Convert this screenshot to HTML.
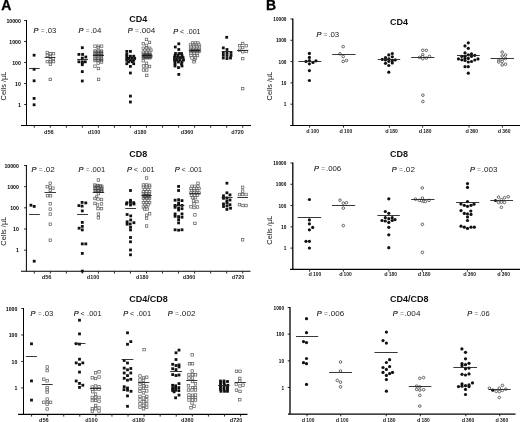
<!DOCTYPE html>
<html><head><meta charset="utf-8"><style>
html,body{margin:0;padding:0;background:#fff;width:520px;height:422px;overflow:hidden;position:relative}
svg{filter:grayscale(1)}
</style></head><body>
<svg width="520" height="422" viewBox="0 0 520 422" style="position:absolute;left:0;top:0">
<rect width="520" height="422" fill="#fff"/>
<g font-family='"Liberation Sans", sans-serif' fill="#111">
<text x="1.2" y="9.8" font-size="14" font-weight="bold" stroke="#000" stroke-width="0.3" fill="#000">A</text>
<text x="265.9" y="9.8" font-size="14" font-weight="bold" stroke="#000" stroke-width="0.3" fill="#000">B</text>
<line x1="26.5" y1="20.0" x2="26.5" y2="125.5" stroke="#000" stroke-width="1.0"/>
<line x1="21" y1="125.5" x2="251" y2="125.5" stroke="#000" stroke-width="1.1"/>
<line x1="24.2" y1="20.50" x2="26.5" y2="20.50" stroke="#111" stroke-width="0.9"/>
<text x="20.9" y="22.79" font-size="5.2" font-weight="bold" text-anchor="end" fill="#000">10000</text>
<line x1="24.2" y1="41.50" x2="26.5" y2="41.50" stroke="#111" stroke-width="0.9"/>
<text x="20.9" y="43.79" font-size="5.2" font-weight="bold" text-anchor="end" fill="#000">1000</text>
<line x1="24.2" y1="62.50" x2="26.5" y2="62.50" stroke="#111" stroke-width="0.9"/>
<text x="20.9" y="64.79" font-size="5.2" font-weight="bold" text-anchor="end" fill="#000">100</text>
<line x1="24.2" y1="83.50" x2="26.5" y2="83.50" stroke="#111" stroke-width="0.9"/>
<text x="20.9" y="85.79" font-size="5.2" font-weight="bold" text-anchor="end" fill="#000">10</text>
<line x1="24.2" y1="104.50" x2="26.5" y2="104.50" stroke="#111" stroke-width="0.9"/>
<text x="20.9" y="106.79" font-size="5.2" font-weight="bold" text-anchor="end" fill="#000">1</text>
<line x1="34.30" y1="125.5" x2="34.30" y2="127.7" stroke="#111" stroke-width="0.9"/>
<line x1="50.33" y1="125.5" x2="50.33" y2="127.7" stroke="#111" stroke-width="0.9"/>
<line x1="66.36" y1="125.5" x2="66.36" y2="127.7" stroke="#111" stroke-width="0.9"/>
<line x1="82.39" y1="125.5" x2="82.39" y2="127.7" stroke="#111" stroke-width="0.9"/>
<line x1="98.42" y1="125.5" x2="98.42" y2="127.7" stroke="#111" stroke-width="0.9"/>
<line x1="114.45" y1="125.5" x2="114.45" y2="127.7" stroke="#111" stroke-width="0.9"/>
<line x1="130.48" y1="125.5" x2="130.48" y2="127.7" stroke="#111" stroke-width="0.9"/>
<line x1="146.51" y1="125.5" x2="146.51" y2="127.7" stroke="#111" stroke-width="0.9"/>
<line x1="162.54" y1="125.5" x2="162.54" y2="127.7" stroke="#111" stroke-width="0.9"/>
<line x1="178.57" y1="125.5" x2="178.57" y2="127.7" stroke="#111" stroke-width="0.9"/>
<line x1="194.60" y1="125.5" x2="194.60" y2="127.7" stroke="#111" stroke-width="0.9"/>
<line x1="210.63" y1="125.5" x2="210.63" y2="127.7" stroke="#111" stroke-width="0.9"/>
<line x1="226.66" y1="125.5" x2="226.66" y2="127.7" stroke="#111" stroke-width="0.9"/>
<line x1="242.69" y1="125.5" x2="242.69" y2="127.7" stroke="#111" stroke-width="0.9"/>
<text x="44.00" y="133.5" font-size="5.5" font-weight="bold" fill="#222">d</text>
<text x="47.40" y="133.5" font-size="5.5" font-weight="bold" fill="#222" textLength="6.30" lengthAdjust="spacingAndGlyphs">56</text>
<text x="87.80" y="133.5" font-size="5.5" font-weight="bold" fill="#222">d</text>
<text x="91.20" y="133.5" font-size="5.5" font-weight="bold" fill="#222" textLength="9.10" lengthAdjust="spacingAndGlyphs">100</text>
<text x="134.10" y="133.5" font-size="5.5" font-weight="bold" fill="#222">d</text>
<text x="137.50" y="133.5" font-size="5.5" font-weight="bold" fill="#222" textLength="9.10" lengthAdjust="spacingAndGlyphs">180</text>
<text x="180.80" y="133.5" font-size="5.5" font-weight="bold" fill="#222">d</text>
<text x="184.20" y="133.5" font-size="5.5" font-weight="bold" fill="#222" textLength="9.10" lengthAdjust="spacingAndGlyphs">360</text>
<text x="231.30" y="133.5" font-size="5.5" font-weight="bold" fill="#222">d</text>
<text x="234.70" y="133.5" font-size="5.5" font-weight="bold" fill="#222" textLength="9.10" lengthAdjust="spacingAndGlyphs">720</text>
<line x1="26.4" y1="165.0" x2="26.4" y2="271.3" stroke="#000" stroke-width="1.0"/>
<line x1="21" y1="271.3" x2="250.5" y2="271.3" stroke="#000" stroke-width="1.1"/>
<line x1="24.099999999999998" y1="165.50" x2="26.4" y2="165.50" stroke="#111" stroke-width="0.9"/>
<text x="18.9" y="167.79" font-size="5.2" font-weight="bold" text-anchor="end" fill="#000">10000</text>
<line x1="24.099999999999998" y1="186.66" x2="26.4" y2="186.66" stroke="#111" stroke-width="0.9"/>
<text x="18.9" y="188.95" font-size="5.2" font-weight="bold" text-anchor="end" fill="#000">1000</text>
<line x1="24.099999999999998" y1="207.82" x2="26.4" y2="207.82" stroke="#111" stroke-width="0.9"/>
<text x="18.9" y="210.11" font-size="5.2" font-weight="bold" text-anchor="end" fill="#000">100</text>
<line x1="24.099999999999998" y1="228.98" x2="26.4" y2="228.98" stroke="#111" stroke-width="0.9"/>
<text x="18.9" y="231.27" font-size="5.2" font-weight="bold" text-anchor="end" fill="#000">10</text>
<line x1="24.099999999999998" y1="250.14" x2="26.4" y2="250.14" stroke="#111" stroke-width="0.9"/>
<text x="18.9" y="252.43" font-size="5.2" font-weight="bold" text-anchor="end" fill="#000">1</text>
<line x1="34.30" y1="271.3" x2="34.30" y2="273.5" stroke="#111" stroke-width="0.9"/>
<line x1="50.33" y1="271.3" x2="50.33" y2="273.5" stroke="#111" stroke-width="0.9"/>
<line x1="66.36" y1="271.3" x2="66.36" y2="273.5" stroke="#111" stroke-width="0.9"/>
<line x1="82.39" y1="271.3" x2="82.39" y2="273.5" stroke="#111" stroke-width="0.9"/>
<line x1="98.42" y1="271.3" x2="98.42" y2="273.5" stroke="#111" stroke-width="0.9"/>
<line x1="114.45" y1="271.3" x2="114.45" y2="273.5" stroke="#111" stroke-width="0.9"/>
<line x1="130.48" y1="271.3" x2="130.48" y2="273.5" stroke="#111" stroke-width="0.9"/>
<line x1="146.51" y1="271.3" x2="146.51" y2="273.5" stroke="#111" stroke-width="0.9"/>
<line x1="162.54" y1="271.3" x2="162.54" y2="273.5" stroke="#111" stroke-width="0.9"/>
<line x1="178.57" y1="271.3" x2="178.57" y2="273.5" stroke="#111" stroke-width="0.9"/>
<line x1="194.60" y1="271.3" x2="194.60" y2="273.5" stroke="#111" stroke-width="0.9"/>
<line x1="210.63" y1="271.3" x2="210.63" y2="273.5" stroke="#111" stroke-width="0.9"/>
<line x1="226.66" y1="271.3" x2="226.66" y2="273.5" stroke="#111" stroke-width="0.9"/>
<line x1="242.69" y1="271.3" x2="242.69" y2="273.5" stroke="#111" stroke-width="0.9"/>
<text x="41.80" y="278.5" font-size="5.5" font-weight="bold" fill="#222">d</text>
<text x="45.20" y="278.5" font-size="5.5" font-weight="bold" fill="#222" textLength="6.30" lengthAdjust="spacingAndGlyphs">56</text>
<text x="86.80" y="278.5" font-size="5.5" font-weight="bold" fill="#222">d</text>
<text x="90.20" y="278.5" font-size="5.5" font-weight="bold" fill="#222" textLength="9.10" lengthAdjust="spacingAndGlyphs">100</text>
<text x="136.10" y="278.5" font-size="5.5" font-weight="bold" fill="#222">d</text>
<text x="139.50" y="278.5" font-size="5.5" font-weight="bold" fill="#222" textLength="9.10" lengthAdjust="spacingAndGlyphs">180</text>
<text x="182.80" y="278.5" font-size="5.5" font-weight="bold" fill="#222">d</text>
<text x="186.20" y="278.5" font-size="5.5" font-weight="bold" fill="#222" textLength="9.10" lengthAdjust="spacingAndGlyphs">360</text>
<text x="231.80" y="278.5" font-size="5.5" font-weight="bold" fill="#222">d</text>
<text x="235.20" y="278.5" font-size="5.5" font-weight="bold" fill="#222" textLength="9.10" lengthAdjust="spacingAndGlyphs">720</text>
<line x1="23.5" y1="308.0" x2="23.5" y2="414.4" stroke="#000" stroke-width="1.0"/>
<line x1="18" y1="414.4" x2="247.5" y2="414.4" stroke="#000" stroke-width="1.1"/>
<line x1="21.2" y1="308.50" x2="23.5" y2="308.50" stroke="#111" stroke-width="0.9"/>
<text x="17.4" y="310.79" font-size="5.2" font-weight="bold" text-anchor="end" fill="#000">1000</text>
<line x1="21.2" y1="334.97" x2="23.5" y2="334.97" stroke="#111" stroke-width="0.9"/>
<text x="17.4" y="337.26" font-size="5.2" font-weight="bold" text-anchor="end" fill="#000">100</text>
<line x1="21.2" y1="361.44" x2="23.5" y2="361.44" stroke="#111" stroke-width="0.9"/>
<text x="17.4" y="363.73" font-size="5.2" font-weight="bold" text-anchor="end" fill="#000">10</text>
<line x1="21.2" y1="387.91" x2="23.5" y2="387.91" stroke="#111" stroke-width="0.9"/>
<text x="17.4" y="390.20" font-size="5.2" font-weight="bold" text-anchor="end" fill="#000">1</text>
<line x1="31.60" y1="414.4" x2="31.60" y2="416.59999999999997" stroke="#111" stroke-width="0.9"/>
<line x1="47.67" y1="414.4" x2="47.67" y2="416.59999999999997" stroke="#111" stroke-width="0.9"/>
<line x1="63.74" y1="414.4" x2="63.74" y2="416.59999999999997" stroke="#111" stroke-width="0.9"/>
<line x1="79.81" y1="414.4" x2="79.81" y2="416.59999999999997" stroke="#111" stroke-width="0.9"/>
<line x1="95.88" y1="414.4" x2="95.88" y2="416.59999999999997" stroke="#111" stroke-width="0.9"/>
<line x1="111.95" y1="414.4" x2="111.95" y2="416.59999999999997" stroke="#111" stroke-width="0.9"/>
<line x1="128.02" y1="414.4" x2="128.02" y2="416.59999999999997" stroke="#111" stroke-width="0.9"/>
<line x1="144.09" y1="414.4" x2="144.09" y2="416.59999999999997" stroke="#111" stroke-width="0.9"/>
<line x1="160.16" y1="414.4" x2="160.16" y2="416.59999999999997" stroke="#111" stroke-width="0.9"/>
<line x1="176.23" y1="414.4" x2="176.23" y2="416.59999999999997" stroke="#111" stroke-width="0.9"/>
<line x1="192.30" y1="414.4" x2="192.30" y2="416.59999999999997" stroke="#111" stroke-width="0.9"/>
<line x1="208.37" y1="414.4" x2="208.37" y2="416.59999999999997" stroke="#111" stroke-width="0.9"/>
<line x1="224.44" y1="414.4" x2="224.44" y2="416.59999999999997" stroke="#111" stroke-width="0.9"/>
<line x1="240.51" y1="414.4" x2="240.51" y2="416.59999999999997" stroke="#111" stroke-width="0.9"/>
<text x="39.00" y="421.9" font-size="5.5" font-weight="bold" fill="#222">d</text>
<text x="42.40" y="421.9" font-size="5.5" font-weight="bold" fill="#222" textLength="6.30" lengthAdjust="spacingAndGlyphs">56</text>
<text x="85.20" y="421.9" font-size="5.5" font-weight="bold" fill="#222">d</text>
<text x="88.60" y="421.9" font-size="5.5" font-weight="bold" fill="#222" textLength="9.10" lengthAdjust="spacingAndGlyphs">100</text>
<text x="132.30" y="421.9" font-size="5.5" font-weight="bold" fill="#222">d</text>
<text x="135.70" y="421.9" font-size="5.5" font-weight="bold" fill="#222" textLength="9.10" lengthAdjust="spacingAndGlyphs">180</text>
<text x="181.10" y="421.9" font-size="5.5" font-weight="bold" fill="#222">d</text>
<text x="184.50" y="421.9" font-size="5.5" font-weight="bold" fill="#222" textLength="9.10" lengthAdjust="spacingAndGlyphs">360</text>
<text x="229.80" y="421.9" font-size="5.5" font-weight="bold" fill="#222">d</text>
<text x="233.20" y="421.9" font-size="5.5" font-weight="bold" fill="#222" textLength="9.10" lengthAdjust="spacingAndGlyphs">720</text>
<line x1="292.8" y1="18.5" x2="292.8" y2="125.45" stroke="#000" stroke-width="1.3"/>
<line x1="290.1" y1="125.45" x2="520" y2="125.45" stroke="#000" stroke-width="1.1"/>
<line x1="290.5" y1="19.00" x2="292.8" y2="19.00" stroke="#111" stroke-width="0.9"/>
<text x="286.4" y="21.07" font-size="4.7" font-weight="bold" text-anchor="end" fill="#000">10000</text>
<line x1="290.5" y1="40.29" x2="292.8" y2="40.29" stroke="#111" stroke-width="0.9"/>
<text x="286.4" y="42.36" font-size="4.7" font-weight="bold" text-anchor="end" fill="#000">1000</text>
<line x1="290.5" y1="61.58" x2="292.8" y2="61.58" stroke="#111" stroke-width="0.9"/>
<text x="286.4" y="63.65" font-size="4.7" font-weight="bold" text-anchor="end" fill="#000">100</text>
<line x1="290.5" y1="82.87" x2="292.8" y2="82.87" stroke="#111" stroke-width="0.9"/>
<text x="286.4" y="84.94" font-size="4.7" font-weight="bold" text-anchor="end" fill="#000">10</text>
<line x1="290.5" y1="104.16" x2="292.8" y2="104.16" stroke="#111" stroke-width="0.9"/>
<text x="286.4" y="106.23" font-size="4.7" font-weight="bold" text-anchor="end" fill="#000">1</text>
<line x1="309.60" y1="125.45" x2="309.60" y2="127.65" stroke="#111" stroke-width="0.9"/>
<line x1="343.50" y1="125.45" x2="343.50" y2="127.65" stroke="#111" stroke-width="0.9"/>
<line x1="389.40" y1="125.45" x2="389.40" y2="127.65" stroke="#111" stroke-width="0.9"/>
<line x1="422.60" y1="125.45" x2="422.60" y2="127.65" stroke="#111" stroke-width="0.9"/>
<line x1="469.00" y1="125.45" x2="469.00" y2="127.65" stroke="#111" stroke-width="0.9"/>
<line x1="502.40" y1="125.45" x2="502.40" y2="127.65" stroke="#111" stroke-width="0.9"/>
<text x="306.30" y="132.9" font-size="5.5" font-weight="bold" fill="#222">d</text>
<text x="310.70" y="132.9" font-size="5.5" font-weight="bold" fill="#222" textLength="8.20" lengthAdjust="spacingAndGlyphs">100</text>
<text x="339.60" y="132.9" font-size="5.5" font-weight="bold" fill="#222">d</text>
<text x="344.00" y="132.9" font-size="5.5" font-weight="bold" fill="#222" textLength="8.20" lengthAdjust="spacingAndGlyphs">100</text>
<text x="385.20" y="132.9" font-size="5.5" font-weight="bold" fill="#222">d</text>
<text x="389.60" y="132.9" font-size="5.5" font-weight="bold" fill="#222" textLength="8.20" lengthAdjust="spacingAndGlyphs">180</text>
<text x="418.80" y="132.9" font-size="5.5" font-weight="bold" fill="#222">d</text>
<text x="423.20" y="132.9" font-size="5.5" font-weight="bold" fill="#222" textLength="8.20" lengthAdjust="spacingAndGlyphs">180</text>
<text x="465.50" y="132.9" font-size="5.5" font-weight="bold" fill="#222">d</text>
<text x="469.90" y="132.9" font-size="5.5" font-weight="bold" fill="#222" textLength="8.20" lengthAdjust="spacingAndGlyphs">360</text>
<text x="497.80" y="132.9" font-size="5.5" font-weight="bold" fill="#222">d</text>
<text x="502.20" y="132.9" font-size="5.5" font-weight="bold" fill="#222" textLength="8.20" lengthAdjust="spacingAndGlyphs">360</text>
<line x1="292.8" y1="162.5" x2="292.8" y2="269.4" stroke="#000" stroke-width="1.3"/>
<line x1="290" y1="269.4" x2="520" y2="269.4" stroke="#000" stroke-width="1.1"/>
<line x1="290.5" y1="163.00" x2="292.8" y2="163.00" stroke="#111" stroke-width="0.9"/>
<text x="286.3" y="165.07" font-size="4.7" font-weight="bold" text-anchor="end" fill="#000">10000</text>
<line x1="290.5" y1="184.28" x2="292.8" y2="184.28" stroke="#111" stroke-width="0.9"/>
<text x="286.3" y="186.35" font-size="4.7" font-weight="bold" text-anchor="end" fill="#000">1000</text>
<line x1="290.5" y1="205.56" x2="292.8" y2="205.56" stroke="#111" stroke-width="0.9"/>
<text x="286.3" y="207.63" font-size="4.7" font-weight="bold" text-anchor="end" fill="#000">100</text>
<line x1="290.5" y1="226.84" x2="292.8" y2="226.84" stroke="#111" stroke-width="0.9"/>
<text x="286.3" y="228.91" font-size="4.7" font-weight="bold" text-anchor="end" fill="#000">10</text>
<line x1="290.5" y1="248.12" x2="292.8" y2="248.12" stroke="#111" stroke-width="0.9"/>
<text x="286.3" y="250.19" font-size="4.7" font-weight="bold" text-anchor="end" fill="#000">1</text>
<line x1="309.60" y1="269.4" x2="309.60" y2="271.59999999999997" stroke="#111" stroke-width="0.9"/>
<line x1="343.40" y1="269.4" x2="343.40" y2="271.59999999999997" stroke="#111" stroke-width="0.9"/>
<line x1="388.90" y1="269.4" x2="388.90" y2="271.59999999999997" stroke="#111" stroke-width="0.9"/>
<line x1="422.40" y1="269.4" x2="422.40" y2="271.59999999999997" stroke="#111" stroke-width="0.9"/>
<line x1="467.40" y1="269.4" x2="467.40" y2="271.59999999999997" stroke="#111" stroke-width="0.9"/>
<line x1="501.60" y1="269.4" x2="501.60" y2="271.59999999999997" stroke="#111" stroke-width="0.9"/>
<text x="308.60" y="276.4" font-size="5.5" font-weight="bold" fill="#222">d</text>
<text x="313.00" y="276.4" font-size="5.5" font-weight="bold" fill="#222" textLength="8.20" lengthAdjust="spacingAndGlyphs">100</text>
<text x="339.20" y="276.4" font-size="5.5" font-weight="bold" fill="#222">d</text>
<text x="343.60" y="276.4" font-size="5.5" font-weight="bold" fill="#222" textLength="8.20" lengthAdjust="spacingAndGlyphs">100</text>
<text x="384.30" y="276.4" font-size="5.5" font-weight="bold" fill="#222">d</text>
<text x="388.70" y="276.4" font-size="5.5" font-weight="bold" fill="#222" textLength="8.20" lengthAdjust="spacingAndGlyphs">180</text>
<text x="417.80" y="276.4" font-size="5.5" font-weight="bold" fill="#222">d</text>
<text x="422.20" y="276.4" font-size="5.5" font-weight="bold" fill="#222" textLength="8.20" lengthAdjust="spacingAndGlyphs">180</text>
<text x="463.30" y="276.4" font-size="5.5" font-weight="bold" fill="#222">d</text>
<text x="467.70" y="276.4" font-size="5.5" font-weight="bold" fill="#222" textLength="8.20" lengthAdjust="spacingAndGlyphs">360</text>
<text x="497.30" y="276.4" font-size="5.5" font-weight="bold" fill="#222">d</text>
<text x="501.70" y="276.4" font-size="5.5" font-weight="bold" fill="#222" textLength="8.20" lengthAdjust="spacingAndGlyphs">360</text>
<line x1="290.0" y1="307.0" x2="290.0" y2="414.1" stroke="#000" stroke-width="1.3"/>
<line x1="288" y1="414.1" x2="515.5" y2="414.1" stroke="#000" stroke-width="1.1"/>
<line x1="287.7" y1="307.50" x2="290.0" y2="307.50" stroke="#111" stroke-width="0.9"/>
<text x="284.0" y="309.57" font-size="4.7" font-weight="bold" text-anchor="end" fill="#000">1000</text>
<line x1="287.7" y1="334.15" x2="290.0" y2="334.15" stroke="#111" stroke-width="0.9"/>
<text x="284.0" y="336.22" font-size="4.7" font-weight="bold" text-anchor="end" fill="#000">100</text>
<line x1="287.7" y1="360.80" x2="290.0" y2="360.80" stroke="#111" stroke-width="0.9"/>
<text x="284.0" y="362.87" font-size="4.7" font-weight="bold" text-anchor="end" fill="#000">10</text>
<line x1="287.7" y1="387.45" x2="290.0" y2="387.45" stroke="#111" stroke-width="0.9"/>
<text x="284.0" y="389.52" font-size="4.7" font-weight="bold" text-anchor="end" fill="#000">1</text>
<line x1="307.00" y1="414.1" x2="307.00" y2="416.3" stroke="#111" stroke-width="0.9"/>
<line x1="340.70" y1="414.1" x2="340.70" y2="416.3" stroke="#111" stroke-width="0.9"/>
<line x1="386.20" y1="414.1" x2="386.20" y2="416.3" stroke="#111" stroke-width="0.9"/>
<line x1="420.30" y1="414.1" x2="420.30" y2="416.3" stroke="#111" stroke-width="0.9"/>
<line x1="465.80" y1="414.1" x2="465.80" y2="416.3" stroke="#111" stroke-width="0.9"/>
<line x1="499.80" y1="414.1" x2="499.80" y2="416.3" stroke="#111" stroke-width="0.9"/>
<text x="301.80" y="421.8" font-size="5.5" font-weight="bold" fill="#222">d</text>
<text x="306.20" y="421.8" font-size="5.5" font-weight="bold" fill="#222" textLength="8.20" lengthAdjust="spacingAndGlyphs">100</text>
<text x="335.80" y="421.8" font-size="5.5" font-weight="bold" fill="#222">d</text>
<text x="340.20" y="421.8" font-size="5.5" font-weight="bold" fill="#222" textLength="8.20" lengthAdjust="spacingAndGlyphs">100</text>
<text x="382.80" y="421.8" font-size="5.5" font-weight="bold" fill="#222">d</text>
<text x="387.20" y="421.8" font-size="5.5" font-weight="bold" fill="#222" textLength="8.20" lengthAdjust="spacingAndGlyphs">180</text>
<text x="417.10" y="421.8" font-size="5.5" font-weight="bold" fill="#222">d</text>
<text x="421.50" y="421.8" font-size="5.5" font-weight="bold" fill="#222" textLength="8.20" lengthAdjust="spacingAndGlyphs">180</text>
<text x="461.70" y="421.8" font-size="5.5" font-weight="bold" fill="#222">d</text>
<text x="466.10" y="421.8" font-size="5.5" font-weight="bold" fill="#222" textLength="8.20" lengthAdjust="spacingAndGlyphs">360</text>
<text x="495.60" y="421.8" font-size="5.5" font-weight="bold" fill="#222">d</text>
<text x="500.00" y="421.8" font-size="5.5" font-weight="bold" fill="#222" textLength="8.20" lengthAdjust="spacingAndGlyphs">360</text>
<text x="129.2" y="22.0" font-size="9" font-weight="bold">CD4</text>
<text x="129.2" y="157.0" font-size="9" font-weight="bold">CD8</text>
<text x="129.2" y="302.0" font-size="9" font-weight="bold">CD4/CD8</text>
<text x="390" y="24.6" font-size="9" font-weight="bold">CD4</text>
<text x="390" y="157.2" font-size="9" font-weight="bold">CD8</text>
<text x="390" y="301.8" font-size="9" font-weight="bold">CD4/CD8</text>
<text x="33.60" y="33.3" font-size="7.4" font-style="italic" fill="#111" stroke="#111" stroke-width="0.2">P</text>
<text x="40.80" y="33.3" font-size="6.6" fill="#777">=</text>
<text x="45.50" y="33.3" font-size="7.3" fill="#1a1a1a" textLength="10.70" lengthAdjust="spacingAndGlyphs">.03</text>
<text x="78.50" y="33.3" font-size="7.4" font-style="italic" fill="#111" stroke="#111" stroke-width="0.2">P</text>
<text x="85.70" y="33.3" font-size="6.6" fill="#777">=</text>
<text x="90.40" y="33.3" font-size="7.3" fill="#1a1a1a" textLength="11.00" lengthAdjust="spacingAndGlyphs">.04</text>
<text x="127.70" y="33.3" font-size="7.4" font-style="italic" fill="#111" stroke="#111" stroke-width="0.2">P</text>
<text x="134.90" y="33.3" font-size="6.6" fill="#777">=</text>
<text x="139.60" y="33.3" font-size="7.3" fill="#1a1a1a" textLength="15.70" lengthAdjust="spacingAndGlyphs">.004</text>
<text x="173.30" y="33.5" font-size="7.4" font-style="italic" fill="#111" stroke="#111" stroke-width="0.2">P</text>
<text x="180.10" y="33.5" font-size="7.2" fill="#222">&lt;</text>
<text x="186.70" y="33.5" font-size="7.3" fill="#1a1a1a" textLength="13.90" lengthAdjust="spacingAndGlyphs">.001</text>
<text x="31.50" y="171.5" font-size="7.4" font-style="italic" fill="#111" stroke="#111" stroke-width="0.2">P</text>
<text x="38.70" y="171.5" font-size="6.6" fill="#777">=</text>
<text x="43.40" y="171.5" font-size="7.3" fill="#1a1a1a" textLength="11.30" lengthAdjust="spacingAndGlyphs">.02</text>
<text x="78.50" y="171.5" font-size="7.4" font-style="italic" fill="#111" stroke="#111" stroke-width="0.2">P</text>
<text x="85.70" y="171.5" font-size="6.6" fill="#777">=</text>
<text x="90.40" y="171.5" font-size="7.3" fill="#1a1a1a" textLength="14.80" lengthAdjust="spacingAndGlyphs">.001</text>
<text x="127.00" y="171.6" font-size="7.4" font-style="italic" fill="#111" stroke="#111" stroke-width="0.2">P</text>
<text x="133.80" y="171.6" font-size="7.2" fill="#222">&lt;</text>
<text x="140.40" y="171.6" font-size="7.3" fill="#1a1a1a" textLength="14.30" lengthAdjust="spacingAndGlyphs">.001</text>
<text x="174.70" y="171.6" font-size="7.4" font-style="italic" fill="#111" stroke="#111" stroke-width="0.2">P</text>
<text x="181.50" y="171.6" font-size="7.2" fill="#222">&lt;</text>
<text x="188.10" y="171.6" font-size="7.3" fill="#1a1a1a" textLength="14.00" lengthAdjust="spacingAndGlyphs">.001</text>
<text x="30.60" y="315.6" font-size="7.4" font-style="italic" fill="#111" stroke="#111" stroke-width="0.2">P</text>
<text x="37.80" y="315.6" font-size="6.6" fill="#777">=</text>
<text x="42.50" y="315.6" font-size="7.3" fill="#1a1a1a" textLength="10.80" lengthAdjust="spacingAndGlyphs">.03</text>
<text x="73.70" y="315.7" font-size="7.4" font-style="italic" fill="#111" stroke="#111" stroke-width="0.2">P</text>
<text x="80.50" y="315.7" font-size="7.2" fill="#222">&lt;</text>
<text x="87.10" y="315.7" font-size="7.3" fill="#1a1a1a" textLength="14.60" lengthAdjust="spacingAndGlyphs">.001</text>
<text x="123.20" y="315.7" font-size="7.4" font-style="italic" fill="#111" stroke="#111" stroke-width="0.2">P</text>
<text x="130.00" y="315.7" font-size="7.2" fill="#222">&lt;</text>
<text x="136.60" y="315.7" font-size="7.3" fill="#1a1a1a" textLength="14.50" lengthAdjust="spacingAndGlyphs">.001</text>
<text x="167.70" y="315.7" font-size="7.4" font-style="italic" fill="#111" stroke="#111" stroke-width="0.2">P</text>
<text x="174.90" y="315.7" font-size="6.6" fill="#777">=</text>
<text x="179.60" y="315.7" font-size="7.3" fill="#1a1a1a" textLength="15.90" lengthAdjust="spacingAndGlyphs">.002</text>
<text x="316.40" y="36.7" font-size="7.4" font-style="italic" fill="#111" stroke="#111" stroke-width="0.2">P</text>
<text x="323.60" y="36.7" font-size="6.6" fill="#777">=</text>
<text x="328.30" y="36.7" font-size="7.3" fill="#1a1a1a" textLength="10.90" lengthAdjust="spacingAndGlyphs">.03</text>
<text x="314.10" y="171.4" font-size="7.4" font-style="italic" fill="#111" stroke="#111" stroke-width="0.2">P</text>
<text x="321.30" y="171.4" font-size="6.6" fill="#777">=</text>
<text x="326.00" y="171.4" font-size="7.3" fill="#1a1a1a" textLength="15.20" lengthAdjust="spacingAndGlyphs">.006</text>
<text x="391.70" y="171.7" font-size="7.4" font-style="italic" fill="#111" stroke="#111" stroke-width="0.2">P</text>
<text x="398.90" y="171.7" font-size="6.6" fill="#777">=</text>
<text x="403.60" y="171.7" font-size="7.3" fill="#1a1a1a" textLength="11.40" lengthAdjust="spacingAndGlyphs">.02</text>
<text x="469.90" y="171.6" font-size="7.4" font-style="italic" fill="#111" stroke="#111" stroke-width="0.2">P</text>
<text x="477.10" y="171.6" font-size="6.6" fill="#777">=</text>
<text x="481.80" y="171.6" font-size="7.3" fill="#1a1a1a" textLength="15.60" lengthAdjust="spacingAndGlyphs">.003</text>
<text x="316.70" y="315.8" font-size="7.4" font-style="italic" fill="#111" stroke="#111" stroke-width="0.2">P</text>
<text x="323.90" y="315.8" font-size="6.6" fill="#777">=</text>
<text x="328.60" y="315.8" font-size="7.3" fill="#1a1a1a" textLength="15.50" lengthAdjust="spacingAndGlyphs">.006</text>
<text x="392.70" y="315.9" font-size="7.4" font-style="italic" fill="#111" stroke="#111" stroke-width="0.2">P</text>
<text x="399.90" y="315.9" font-size="6.6" fill="#777">=</text>
<text x="404.60" y="315.9" font-size="7.3" fill="#1a1a1a" textLength="15.80" lengthAdjust="spacingAndGlyphs">.004</text>
<text x="467.30" y="316.0" font-size="7.4" font-style="italic" fill="#111" stroke="#111" stroke-width="0.2">P</text>
<text x="474.50" y="316.0" font-size="6.6" fill="#777">=</text>
<text x="479.20" y="316.0" font-size="7.3" fill="#1a1a1a" textLength="10.40" lengthAdjust="spacingAndGlyphs">.06</text>
<text transform="translate(6.4,86) rotate(-90)" font-size="7.4" text-anchor="middle" fill="#111">Cells /µL</text>
<text transform="translate(6.4,231.2) rotate(-90)" font-size="7.4" text-anchor="middle" fill="#111">Cells /µL</text>
<text transform="translate(272.2,86) rotate(-90)" font-size="7.4" text-anchor="middle" fill="#111">Cells /µL</text>
<text transform="translate(272.2,230.2) rotate(-90)" font-size="7.4" text-anchor="middle" fill="#111">Cells /µL</text>
<rect x="32.70" y="53.80" width="2.8" height="2.8" fill="#111"/>
<rect x="32.70" y="67.90" width="2.8" height="2.8" fill="#111"/>
<rect x="32.70" y="79.40" width="2.8" height="2.8" fill="#111"/>
<rect x="32.70" y="97.00" width="2.8" height="2.8" fill="#111"/>
<rect x="32.70" y="103.40" width="2.8" height="2.8" fill="#111"/>
<rect x="46.05" y="51.25" width="2.5" height="2.5" fill="#fff" fill-opacity="0.5" stroke="#5c5c5c" stroke-width="0.7"/>
<rect x="49.15" y="52.35" width="2.5" height="2.5" fill="#fff" fill-opacity="0.5" stroke="#5c5c5c" stroke-width="0.7"/>
<rect x="52.25" y="52.35" width="2.5" height="2.5" fill="#fff" fill-opacity="0.5" stroke="#5c5c5c" stroke-width="0.7"/>
<rect x="46.05" y="54.25" width="2.5" height="2.5" fill="#fff" fill-opacity="0.5" stroke="#5c5c5c" stroke-width="0.7"/>
<rect x="49.15" y="55.35" width="2.5" height="2.5" fill="#fff" fill-opacity="0.5" stroke="#5c5c5c" stroke-width="0.7"/>
<rect x="49.15" y="58.35" width="2.5" height="2.5" fill="#fff" fill-opacity="0.5" stroke="#5c5c5c" stroke-width="0.7"/>
<rect x="51.95" y="57.25" width="2.5" height="2.5" fill="#fff" fill-opacity="0.5" stroke="#5c5c5c" stroke-width="0.7"/>
<rect x="46.05" y="60.35" width="2.5" height="2.5" fill="#fff" fill-opacity="0.5" stroke="#5c5c5c" stroke-width="0.7"/>
<rect x="49.15" y="60.35" width="2.5" height="2.5" fill="#fff" fill-opacity="0.5" stroke="#5c5c5c" stroke-width="0.7"/>
<rect x="52.25" y="60.35" width="2.5" height="2.5" fill="#fff" fill-opacity="0.5" stroke="#5c5c5c" stroke-width="0.7"/>
<rect x="49.15" y="63.05" width="2.5" height="2.5" fill="#fff" fill-opacity="0.5" stroke="#5c5c5c" stroke-width="0.7"/>
<rect x="49.05" y="78.15" width="2.5" height="2.5" fill="#fff" fill-opacity="0.5" stroke="#5c5c5c" stroke-width="0.7"/>
<rect x="80.90" y="46.30" width="2.8" height="2.8" fill="#111"/>
<rect x="77.50" y="53.00" width="2.8" height="2.8" fill="#111"/>
<rect x="81.20" y="53.00" width="2.8" height="2.8" fill="#111"/>
<rect x="84.40" y="55.60" width="2.8" height="2.8" fill="#111"/>
<rect x="80.90" y="56.70" width="2.8" height="2.8" fill="#111"/>
<rect x="77.50" y="60.40" width="2.8" height="2.8" fill="#111"/>
<rect x="80.90" y="60.40" width="2.8" height="2.8" fill="#111"/>
<rect x="83.90" y="60.40" width="2.8" height="2.8" fill="#111"/>
<rect x="80.90" y="61.50" width="2.8" height="2.8" fill="#111"/>
<rect x="80.90" y="63.30" width="2.8" height="2.8" fill="#111"/>
<rect x="80.90" y="70.20" width="2.8" height="2.8" fill="#111"/>
<rect x="80.90" y="79.60" width="2.8" height="2.8" fill="#111"/>
<rect x="93.75" y="44.95" width="2.5" height="2.5" fill="#fff" fill-opacity="0.5" stroke="#5c5c5c" stroke-width="0.7"/>
<rect x="96.95" y="44.95" width="2.5" height="2.5" fill="#fff" fill-opacity="0.5" stroke="#5c5c5c" stroke-width="0.7"/>
<rect x="100.35" y="44.95" width="2.5" height="2.5" fill="#fff" fill-opacity="0.5" stroke="#5c5c5c" stroke-width="0.7"/>
<rect x="96.95" y="46.35" width="2.5" height="2.5" fill="#fff" fill-opacity="0.5" stroke="#5c5c5c" stroke-width="0.7"/>
<rect x="93.75" y="49.75" width="2.5" height="2.5" fill="#fff" fill-opacity="0.5" stroke="#5c5c5c" stroke-width="0.7"/>
<rect x="96.95" y="49.75" width="2.5" height="2.5" fill="#fff" fill-opacity="0.5" stroke="#5c5c5c" stroke-width="0.7"/>
<rect x="100.25" y="49.75" width="2.5" height="2.5" fill="#fff" fill-opacity="0.5" stroke="#5c5c5c" stroke-width="0.7"/>
<rect x="93.75" y="52.25" width="2.5" height="2.5" fill="#fff" fill-opacity="0.5" stroke="#5c5c5c" stroke-width="0.7"/>
<rect x="97.25" y="52.25" width="2.5" height="2.5" fill="#fff" fill-opacity="0.5" stroke="#5c5c5c" stroke-width="0.7"/>
<rect x="100.25" y="52.25" width="2.5" height="2.5" fill="#fff" fill-opacity="0.5" stroke="#5c5c5c" stroke-width="0.7"/>
<rect x="93.75" y="54.35" width="2.5" height="2.5" fill="#fff" fill-opacity="0.5" stroke="#5c5c5c" stroke-width="0.7"/>
<rect x="96.95" y="54.35" width="2.5" height="2.5" fill="#fff" fill-opacity="0.5" stroke="#5c5c5c" stroke-width="0.7"/>
<rect x="100.25" y="54.35" width="2.5" height="2.5" fill="#fff" fill-opacity="0.5" stroke="#5c5c5c" stroke-width="0.7"/>
<rect x="93.75" y="57.25" width="2.5" height="2.5" fill="#fff" fill-opacity="0.5" stroke="#5c5c5c" stroke-width="0.7"/>
<rect x="96.95" y="57.25" width="2.5" height="2.5" fill="#fff" fill-opacity="0.5" stroke="#5c5c5c" stroke-width="0.7"/>
<rect x="100.25" y="57.25" width="2.5" height="2.5" fill="#fff" fill-opacity="0.5" stroke="#5c5c5c" stroke-width="0.7"/>
<rect x="93.75" y="59.25" width="2.5" height="2.5" fill="#fff" fill-opacity="0.5" stroke="#5c5c5c" stroke-width="0.7"/>
<rect x="96.95" y="59.25" width="2.5" height="2.5" fill="#fff" fill-opacity="0.5" stroke="#5c5c5c" stroke-width="0.7"/>
<rect x="100.25" y="59.25" width="2.5" height="2.5" fill="#fff" fill-opacity="0.5" stroke="#5c5c5c" stroke-width="0.7"/>
<rect x="100.25" y="60.75" width="2.5" height="2.5" fill="#fff" fill-opacity="0.5" stroke="#5c5c5c" stroke-width="0.7"/>
<rect x="96.95" y="61.95" width="2.5" height="2.5" fill="#fff" fill-opacity="0.5" stroke="#5c5c5c" stroke-width="0.7"/>
<rect x="93.75" y="64.95" width="2.5" height="2.5" fill="#fff" fill-opacity="0.5" stroke="#5c5c5c" stroke-width="0.7"/>
<rect x="97.25" y="67.25" width="2.5" height="2.5" fill="#fff" fill-opacity="0.5" stroke="#5c5c5c" stroke-width="0.7"/>
<rect x="97.35" y="78.15" width="2.5" height="2.5" fill="#fff" fill-opacity="0.5" stroke="#5c5c5c" stroke-width="0.7"/>
<rect x="125.40" y="50.00" width="2.8" height="2.8" fill="#111"/>
<rect x="129.00" y="50.00" width="2.8" height="2.8" fill="#111"/>
<rect x="125.40" y="52.90" width="2.8" height="2.8" fill="#111"/>
<rect x="125.40" y="54.80" width="2.8" height="2.8" fill="#111"/>
<rect x="129.00" y="54.80" width="2.8" height="2.8" fill="#111"/>
<rect x="132.30" y="54.80" width="2.8" height="2.8" fill="#111"/>
<rect x="125.40" y="56.90" width="2.8" height="2.8" fill="#111"/>
<rect x="127.50" y="56.90" width="2.8" height="2.8" fill="#111"/>
<rect x="130.50" y="56.90" width="2.8" height="2.8" fill="#111"/>
<rect x="133.30" y="56.90" width="2.8" height="2.8" fill="#111"/>
<rect x="125.40" y="58.90" width="2.8" height="2.8" fill="#111"/>
<rect x="129.00" y="58.90" width="2.8" height="2.8" fill="#111"/>
<rect x="132.30" y="58.90" width="2.8" height="2.8" fill="#111"/>
<rect x="127.20" y="60.40" width="2.8" height="2.8" fill="#111"/>
<rect x="130.80" y="60.40" width="2.8" height="2.8" fill="#111"/>
<rect x="125.40" y="62.30" width="2.8" height="2.8" fill="#111"/>
<rect x="132.30" y="62.30" width="2.8" height="2.8" fill="#111"/>
<rect x="129.00" y="65.00" width="2.8" height="2.8" fill="#111"/>
<rect x="129.00" y="71.60" width="2.8" height="2.8" fill="#111"/>
<rect x="129.00" y="94.70" width="2.8" height="2.8" fill="#111"/>
<rect x="129.00" y="100.60" width="2.8" height="2.8" fill="#111"/>
<rect x="145.25" y="38.15" width="2.5" height="2.5" fill="#fff" fill-opacity="0.5" stroke="#5c5c5c" stroke-width="0.7"/>
<rect x="148.25" y="41.15" width="2.5" height="2.5" fill="#fff" fill-opacity="0.5" stroke="#5c5c5c" stroke-width="0.7"/>
<rect x="142.05" y="42.45" width="2.5" height="2.5" fill="#fff" fill-opacity="0.5" stroke="#5c5c5c" stroke-width="0.7"/>
<rect x="145.25" y="44.15" width="2.5" height="2.5" fill="#fff" fill-opacity="0.5" stroke="#5c5c5c" stroke-width="0.7"/>
<rect x="142.05" y="47.05" width="2.5" height="2.5" fill="#fff" fill-opacity="0.5" stroke="#5c5c5c" stroke-width="0.7"/>
<rect x="145.25" y="47.05" width="2.5" height="2.5" fill="#fff" fill-opacity="0.5" stroke="#5c5c5c" stroke-width="0.7"/>
<rect x="148.45" y="47.05" width="2.5" height="2.5" fill="#fff" fill-opacity="0.5" stroke="#5c5c5c" stroke-width="0.7"/>
<rect x="143.65" y="48.95" width="2.5" height="2.5" fill="#fff" fill-opacity="0.5" stroke="#5c5c5c" stroke-width="0.7"/>
<rect x="146.85" y="48.95" width="2.5" height="2.5" fill="#fff" fill-opacity="0.5" stroke="#5c5c5c" stroke-width="0.7"/>
<rect x="149.65" y="48.95" width="2.5" height="2.5" fill="#fff" fill-opacity="0.5" stroke="#5c5c5c" stroke-width="0.7"/>
<rect x="142.05" y="50.95" width="2.5" height="2.5" fill="#fff" fill-opacity="0.5" stroke="#5c5c5c" stroke-width="0.7"/>
<rect x="145.25" y="50.95" width="2.5" height="2.5" fill="#fff" fill-opacity="0.5" stroke="#5c5c5c" stroke-width="0.7"/>
<rect x="148.45" y="50.95" width="2.5" height="2.5" fill="#fff" fill-opacity="0.5" stroke="#5c5c5c" stroke-width="0.7"/>
<rect x="142.05" y="52.95" width="2.5" height="2.5" fill="#fff" fill-opacity="0.5" stroke="#5c5c5c" stroke-width="0.7"/>
<rect x="145.25" y="52.95" width="2.5" height="2.5" fill="#fff" fill-opacity="0.5" stroke="#5c5c5c" stroke-width="0.7"/>
<rect x="148.45" y="52.95" width="2.5" height="2.5" fill="#fff" fill-opacity="0.5" stroke="#5c5c5c" stroke-width="0.7"/>
<rect x="143.65" y="54.95" width="2.5" height="2.5" fill="#fff" fill-opacity="0.5" stroke="#5c5c5c" stroke-width="0.7"/>
<rect x="146.85" y="54.95" width="2.5" height="2.5" fill="#fff" fill-opacity="0.5" stroke="#5c5c5c" stroke-width="0.7"/>
<rect x="149.65" y="54.95" width="2.5" height="2.5" fill="#fff" fill-opacity="0.5" stroke="#5c5c5c" stroke-width="0.7"/>
<rect x="142.05" y="56.55" width="2.5" height="2.5" fill="#fff" fill-opacity="0.5" stroke="#5c5c5c" stroke-width="0.7"/>
<rect x="145.25" y="56.55" width="2.5" height="2.5" fill="#fff" fill-opacity="0.5" stroke="#5c5c5c" stroke-width="0.7"/>
<rect x="148.45" y="56.55" width="2.5" height="2.5" fill="#fff" fill-opacity="0.5" stroke="#5c5c5c" stroke-width="0.7"/>
<rect x="142.05" y="59.45" width="2.5" height="2.5" fill="#fff" fill-opacity="0.5" stroke="#5c5c5c" stroke-width="0.7"/>
<rect x="145.25" y="62.05" width="2.5" height="2.5" fill="#fff" fill-opacity="0.5" stroke="#5c5c5c" stroke-width="0.7"/>
<rect x="142.25" y="64.65" width="2.5" height="2.5" fill="#fff" fill-opacity="0.5" stroke="#5c5c5c" stroke-width="0.7"/>
<rect x="145.45" y="64.65" width="2.5" height="2.5" fill="#fff" fill-opacity="0.5" stroke="#5c5c5c" stroke-width="0.7"/>
<rect x="148.25" y="65.25" width="2.5" height="2.5" fill="#fff" fill-opacity="0.5" stroke="#5c5c5c" stroke-width="0.7"/>
<rect x="142.25" y="68.75" width="2.5" height="2.5" fill="#fff" fill-opacity="0.5" stroke="#5c5c5c" stroke-width="0.7"/>
<rect x="145.45" y="68.75" width="2.5" height="2.5" fill="#fff" fill-opacity="0.5" stroke="#5c5c5c" stroke-width="0.7"/>
<rect x="145.45" y="74.15" width="2.5" height="2.5" fill="#fff" fill-opacity="0.5" stroke="#5c5c5c" stroke-width="0.7"/>
<rect x="143.05" y="53.95" width="2.5" height="2.5" fill="#fff" fill-opacity="0.5" stroke="#5c5c5c" stroke-width="0.7"/>
<rect x="146.05" y="53.95" width="2.5" height="2.5" fill="#fff" fill-opacity="0.5" stroke="#5c5c5c" stroke-width="0.7"/>
<rect x="149.05" y="53.95" width="2.5" height="2.5" fill="#fff" fill-opacity="0.5" stroke="#5c5c5c" stroke-width="0.7"/>
<rect x="143.05" y="55.95" width="2.5" height="2.5" fill="#fff" fill-opacity="0.5" stroke="#5c5c5c" stroke-width="0.7"/>
<rect x="146.05" y="55.95" width="2.5" height="2.5" fill="#fff" fill-opacity="0.5" stroke="#5c5c5c" stroke-width="0.7"/>
<rect x="149.05" y="55.95" width="2.5" height="2.5" fill="#fff" fill-opacity="0.5" stroke="#5c5c5c" stroke-width="0.7"/>
<rect x="144.55" y="54.95" width="2.5" height="2.5" fill="#fff" fill-opacity="0.5" stroke="#5c5c5c" stroke-width="0.7"/>
<rect x="147.55" y="54.95" width="2.5" height="2.5" fill="#fff" fill-opacity="0.5" stroke="#5c5c5c" stroke-width="0.7"/>
<rect x="177.40" y="42.40" width="2.8" height="2.8" fill="#111"/>
<rect x="173.90" y="45.60" width="2.8" height="2.8" fill="#111"/>
<rect x="177.40" y="48.10" width="2.8" height="2.8" fill="#111"/>
<rect x="174.10" y="52.10" width="2.8" height="2.8" fill="#111"/>
<rect x="177.60" y="52.10" width="2.8" height="2.8" fill="#111"/>
<rect x="180.10" y="52.10" width="2.8" height="2.8" fill="#111"/>
<rect x="173.60" y="54.10" width="2.8" height="2.8" fill="#111"/>
<rect x="176.60" y="54.10" width="2.8" height="2.8" fill="#111"/>
<rect x="180.60" y="54.10" width="2.8" height="2.8" fill="#111"/>
<rect x="173.10" y="56.10" width="2.8" height="2.8" fill="#111"/>
<rect x="176.10" y="56.10" width="2.8" height="2.8" fill="#111"/>
<rect x="179.10" y="56.10" width="2.8" height="2.8" fill="#111"/>
<rect x="181.60" y="56.10" width="2.8" height="2.8" fill="#111"/>
<rect x="173.10" y="58.60" width="2.8" height="2.8" fill="#111"/>
<rect x="175.60" y="58.60" width="2.8" height="2.8" fill="#111"/>
<rect x="178.60" y="58.60" width="2.8" height="2.8" fill="#111"/>
<rect x="182.10" y="58.60" width="2.8" height="2.8" fill="#111"/>
<rect x="173.60" y="60.60" width="2.8" height="2.8" fill="#111"/>
<rect x="177.10" y="60.60" width="2.8" height="2.8" fill="#111"/>
<rect x="180.60" y="60.60" width="2.8" height="2.8" fill="#111"/>
<rect x="173.60" y="62.60" width="2.8" height="2.8" fill="#111"/>
<rect x="180.10" y="62.60" width="2.8" height="2.8" fill="#111"/>
<rect x="173.60" y="64.60" width="2.8" height="2.8" fill="#111"/>
<rect x="180.60" y="64.60" width="2.8" height="2.8" fill="#111"/>
<rect x="177.10" y="66.20" width="2.8" height="2.8" fill="#111"/>
<rect x="177.40" y="73.00" width="2.8" height="2.8" fill="#111"/>
<rect x="191.25" y="41.75" width="2.5" height="2.5" fill="#fff" fill-opacity="0.5" stroke="#5c5c5c" stroke-width="0.7"/>
<rect x="194.25" y="41.75" width="2.5" height="2.5" fill="#fff" fill-opacity="0.5" stroke="#5c5c5c" stroke-width="0.7"/>
<rect x="196.75" y="41.75" width="2.5" height="2.5" fill="#fff" fill-opacity="0.5" stroke="#5c5c5c" stroke-width="0.7"/>
<rect x="189.25" y="43.75" width="2.5" height="2.5" fill="#fff" fill-opacity="0.5" stroke="#5c5c5c" stroke-width="0.7"/>
<rect x="192.25" y="43.75" width="2.5" height="2.5" fill="#fff" fill-opacity="0.5" stroke="#5c5c5c" stroke-width="0.7"/>
<rect x="195.25" y="43.75" width="2.5" height="2.5" fill="#fff" fill-opacity="0.5" stroke="#5c5c5c" stroke-width="0.7"/>
<rect x="197.75" y="43.75" width="2.5" height="2.5" fill="#fff" fill-opacity="0.5" stroke="#5c5c5c" stroke-width="0.7"/>
<rect x="189.75" y="45.75" width="2.5" height="2.5" fill="#fff" fill-opacity="0.5" stroke="#5c5c5c" stroke-width="0.7"/>
<rect x="192.75" y="45.75" width="2.5" height="2.5" fill="#fff" fill-opacity="0.5" stroke="#5c5c5c" stroke-width="0.7"/>
<rect x="195.75" y="45.75" width="2.5" height="2.5" fill="#fff" fill-opacity="0.5" stroke="#5c5c5c" stroke-width="0.7"/>
<rect x="198.25" y="45.75" width="2.5" height="2.5" fill="#fff" fill-opacity="0.5" stroke="#5c5c5c" stroke-width="0.7"/>
<rect x="189.25" y="47.95" width="2.5" height="2.5" fill="#fff" fill-opacity="0.5" stroke="#5c5c5c" stroke-width="0.7"/>
<rect x="192.25" y="47.95" width="2.5" height="2.5" fill="#fff" fill-opacity="0.5" stroke="#5c5c5c" stroke-width="0.7"/>
<rect x="195.25" y="47.95" width="2.5" height="2.5" fill="#fff" fill-opacity="0.5" stroke="#5c5c5c" stroke-width="0.7"/>
<rect x="197.75" y="47.95" width="2.5" height="2.5" fill="#fff" fill-opacity="0.5" stroke="#5c5c5c" stroke-width="0.7"/>
<rect x="189.25" y="49.75" width="2.5" height="2.5" fill="#fff" fill-opacity="0.5" stroke="#5c5c5c" stroke-width="0.7"/>
<rect x="191.55" y="49.75" width="2.5" height="2.5" fill="#fff" fill-opacity="0.5" stroke="#5c5c5c" stroke-width="0.7"/>
<rect x="193.95" y="49.75" width="2.5" height="2.5" fill="#fff" fill-opacity="0.5" stroke="#5c5c5c" stroke-width="0.7"/>
<rect x="196.35" y="49.75" width="2.5" height="2.5" fill="#fff" fill-opacity="0.5" stroke="#5c5c5c" stroke-width="0.7"/>
<rect x="198.25" y="49.75" width="2.5" height="2.5" fill="#fff" fill-opacity="0.5" stroke="#5c5c5c" stroke-width="0.7"/>
<rect x="189.75" y="51.75" width="2.5" height="2.5" fill="#fff" fill-opacity="0.5" stroke="#5c5c5c" stroke-width="0.7"/>
<rect x="192.75" y="51.75" width="2.5" height="2.5" fill="#fff" fill-opacity="0.5" stroke="#5c5c5c" stroke-width="0.7"/>
<rect x="195.75" y="51.75" width="2.5" height="2.5" fill="#fff" fill-opacity="0.5" stroke="#5c5c5c" stroke-width="0.7"/>
<rect x="189.75" y="54.25" width="2.5" height="2.5" fill="#fff" fill-opacity="0.5" stroke="#5c5c5c" stroke-width="0.7"/>
<rect x="193.25" y="54.25" width="2.5" height="2.5" fill="#fff" fill-opacity="0.5" stroke="#5c5c5c" stroke-width="0.7"/>
<rect x="196.25" y="54.25" width="2.5" height="2.5" fill="#fff" fill-opacity="0.5" stroke="#5c5c5c" stroke-width="0.7"/>
<rect x="190.75" y="56.75" width="2.5" height="2.5" fill="#fff" fill-opacity="0.5" stroke="#5c5c5c" stroke-width="0.7"/>
<rect x="194.25" y="56.75" width="2.5" height="2.5" fill="#fff" fill-opacity="0.5" stroke="#5c5c5c" stroke-width="0.7"/>
<rect x="193.25" y="58.75" width="2.5" height="2.5" fill="#fff" fill-opacity="0.5" stroke="#5c5c5c" stroke-width="0.7"/>
<rect x="192.75" y="60.55" width="2.5" height="2.5" fill="#fff" fill-opacity="0.5" stroke="#5c5c5c" stroke-width="0.7"/>
<rect x="225.30" y="35.90" width="2.8" height="2.8" fill="#111"/>
<rect x="221.90" y="46.50" width="2.8" height="2.8" fill="#111"/>
<rect x="225.60" y="48.10" width="2.8" height="2.8" fill="#111"/>
<rect x="221.90" y="51.10" width="2.8" height="2.8" fill="#111"/>
<rect x="225.60" y="51.40" width="2.8" height="2.8" fill="#111"/>
<rect x="229.60" y="51.10" width="2.8" height="2.8" fill="#111"/>
<rect x="221.90" y="53.80" width="2.8" height="2.8" fill="#111"/>
<rect x="225.60" y="54.10" width="2.8" height="2.8" fill="#111"/>
<rect x="229.60" y="54.10" width="2.8" height="2.8" fill="#111"/>
<rect x="221.90" y="56.60" width="2.8" height="2.8" fill="#111"/>
<rect x="225.60" y="57.10" width="2.8" height="2.8" fill="#111"/>
<rect x="229.10" y="56.60" width="2.8" height="2.8" fill="#111"/>
<rect x="241.45" y="42.15" width="2.5" height="2.5" fill="#fff" fill-opacity="0.5" stroke="#5c5c5c" stroke-width="0.7"/>
<rect x="238.35" y="44.45" width="2.5" height="2.5" fill="#fff" fill-opacity="0.5" stroke="#5c5c5c" stroke-width="0.7"/>
<rect x="244.95" y="44.45" width="2.5" height="2.5" fill="#fff" fill-opacity="0.5" stroke="#5c5c5c" stroke-width="0.7"/>
<rect x="241.45" y="46.35" width="2.5" height="2.5" fill="#fff" fill-opacity="0.5" stroke="#5c5c5c" stroke-width="0.7"/>
<rect x="238.35" y="48.95" width="2.5" height="2.5" fill="#fff" fill-opacity="0.5" stroke="#5c5c5c" stroke-width="0.7"/>
<rect x="241.45" y="50.45" width="2.5" height="2.5" fill="#fff" fill-opacity="0.5" stroke="#5c5c5c" stroke-width="0.7"/>
<rect x="244.95" y="50.25" width="2.5" height="2.5" fill="#fff" fill-opacity="0.5" stroke="#5c5c5c" stroke-width="0.7"/>
<rect x="241.45" y="57.35" width="2.5" height="2.5" fill="#fff" fill-opacity="0.5" stroke="#5c5c5c" stroke-width="0.7"/>
<rect x="241.45" y="87.35" width="2.5" height="2.5" fill="#fff" fill-opacity="0.5" stroke="#5c5c5c" stroke-width="0.7"/>
<line x1="29" y1="68.5" x2="39.7" y2="68.5" stroke="#222" stroke-width="0.9"/>
<line x1="44.7" y1="57.5" x2="55.4" y2="57.5" stroke="#222" stroke-width="0.9"/>
<line x1="77.1" y1="59.5" x2="88" y2="59.5" stroke="#222" stroke-width="0.9"/>
<line x1="92.8" y1="55.5" x2="104" y2="55.5" stroke="#222" stroke-width="0.9"/>
<line x1="125.5" y1="59.5" x2="135.8" y2="59.5" stroke="#222" stroke-width="0.9"/>
<line x1="141.8" y1="55.5" x2="151.6" y2="55.5" stroke="#222" stroke-width="0.9"/>
<line x1="173.3" y1="58.5" x2="184.3" y2="58.5" stroke="#222" stroke-width="0.9"/>
<line x1="189.3" y1="50.5" x2="200.3" y2="50.5" stroke="#222" stroke-width="0.9"/>
<line x1="221.8" y1="51.5" x2="232" y2="51.5" stroke="#222" stroke-width="0.9"/>
<line x1="237" y1="50.5" x2="248.3" y2="50.5" stroke="#222" stroke-width="0.9"/>
<rect x="93.8" y="50.3" width="9.40" height="6.00" rx="1.2" fill="#111" fill-opacity="0.4"/>
<rect x="93.8" y="57.6" width="9.40" height="4.00" rx="1.2" fill="#111" fill-opacity="0.3"/>
<rect x="142.2" y="53.6" width="9.40" height="5.00" rx="1.2" fill="#111" fill-opacity="0.55"/>
<rect x="189.6" y="49.3" width="10.60" height="3.30" rx="1.2" fill="#111" fill-opacity="0.45"/>
<rect x="29.50" y="203.80" width="2.8" height="2.8" fill="#111"/>
<rect x="32.80" y="205.00" width="2.8" height="2.8" fill="#111"/>
<rect x="32.80" y="259.80" width="2.8" height="2.8" fill="#111"/>
<rect x="49.05" y="182.05" width="2.5" height="2.5" fill="#fff" fill-opacity="0.5" stroke="#5c5c5c" stroke-width="0.7"/>
<rect x="46.05" y="185.45" width="2.5" height="2.5" fill="#fff" fill-opacity="0.5" stroke="#5c5c5c" stroke-width="0.7"/>
<rect x="49.05" y="185.95" width="2.5" height="2.5" fill="#fff" fill-opacity="0.5" stroke="#5c5c5c" stroke-width="0.7"/>
<rect x="51.65" y="186.95" width="2.5" height="2.5" fill="#fff" fill-opacity="0.5" stroke="#5c5c5c" stroke-width="0.7"/>
<rect x="49.05" y="189.15" width="2.5" height="2.5" fill="#fff" fill-opacity="0.5" stroke="#5c5c5c" stroke-width="0.7"/>
<rect x="46.25" y="194.45" width="2.5" height="2.5" fill="#fff" fill-opacity="0.5" stroke="#5c5c5c" stroke-width="0.7"/>
<rect x="49.25" y="194.45" width="2.5" height="2.5" fill="#fff" fill-opacity="0.5" stroke="#5c5c5c" stroke-width="0.7"/>
<rect x="49.05" y="202.55" width="2.5" height="2.5" fill="#fff" fill-opacity="0.5" stroke="#5c5c5c" stroke-width="0.7"/>
<rect x="49.05" y="207.85" width="2.5" height="2.5" fill="#fff" fill-opacity="0.5" stroke="#5c5c5c" stroke-width="0.7"/>
<rect x="49.05" y="212.85" width="2.5" height="2.5" fill="#fff" fill-opacity="0.5" stroke="#5c5c5c" stroke-width="0.7"/>
<rect x="49.05" y="222.95" width="2.5" height="2.5" fill="#fff" fill-opacity="0.5" stroke="#5c5c5c" stroke-width="0.7"/>
<rect x="49.05" y="238.95" width="2.5" height="2.5" fill="#fff" fill-opacity="0.5" stroke="#5c5c5c" stroke-width="0.7"/>
<rect x="80.70" y="201.00" width="2.8" height="2.8" fill="#111"/>
<rect x="84.40" y="201.50" width="2.8" height="2.8" fill="#111"/>
<rect x="77.50" y="204.20" width="2.8" height="2.8" fill="#111"/>
<rect x="80.70" y="204.70" width="2.8" height="2.8" fill="#111"/>
<rect x="80.90" y="209.50" width="2.8" height="2.8" fill="#111"/>
<rect x="80.90" y="221.00" width="2.8" height="2.8" fill="#111"/>
<rect x="80.90" y="225.00" width="2.8" height="2.8" fill="#111"/>
<rect x="77.70" y="226.80" width="2.8" height="2.8" fill="#111"/>
<rect x="80.90" y="228.50" width="2.8" height="2.8" fill="#111"/>
<rect x="80.90" y="242.50" width="2.8" height="2.8" fill="#111"/>
<rect x="84.40" y="242.50" width="2.8" height="2.8" fill="#111"/>
<rect x="80.90" y="252.00" width="2.8" height="2.8" fill="#111"/>
<rect x="80.90" y="269.70" width="2.8" height="2.8" fill="#111"/>
<rect x="97.15" y="178.75" width="2.5" height="2.5" fill="#fff" fill-opacity="0.5" stroke="#5c5c5c" stroke-width="0.7"/>
<rect x="93.55" y="183.85" width="2.5" height="2.5" fill="#fff" fill-opacity="0.5" stroke="#5c5c5c" stroke-width="0.7"/>
<rect x="96.25" y="184.25" width="2.5" height="2.5" fill="#fff" fill-opacity="0.5" stroke="#5c5c5c" stroke-width="0.7"/>
<rect x="99.25" y="184.75" width="2.5" height="2.5" fill="#fff" fill-opacity="0.5" stroke="#5c5c5c" stroke-width="0.7"/>
<rect x="96.75" y="186.75" width="2.5" height="2.5" fill="#fff" fill-opacity="0.5" stroke="#5c5c5c" stroke-width="0.7"/>
<rect x="100.25" y="187.75" width="2.5" height="2.5" fill="#fff" fill-opacity="0.5" stroke="#5c5c5c" stroke-width="0.7"/>
<rect x="93.75" y="187.25" width="2.5" height="2.5" fill="#fff" fill-opacity="0.5" stroke="#5c5c5c" stroke-width="0.7"/>
<rect x="93.95" y="189.45" width="2.5" height="2.5" fill="#fff" fill-opacity="0.5" stroke="#5c5c5c" stroke-width="0.7"/>
<rect x="97.15" y="189.45" width="2.5" height="2.5" fill="#fff" fill-opacity="0.5" stroke="#5c5c5c" stroke-width="0.7"/>
<rect x="100.25" y="189.95" width="2.5" height="2.5" fill="#fff" fill-opacity="0.5" stroke="#5c5c5c" stroke-width="0.7"/>
<rect x="97.15" y="192.35" width="2.5" height="2.5" fill="#fff" fill-opacity="0.5" stroke="#5c5c5c" stroke-width="0.7"/>
<rect x="95.25" y="195.75" width="2.5" height="2.5" fill="#fff" fill-opacity="0.5" stroke="#5c5c5c" stroke-width="0.7"/>
<rect x="93.75" y="197.25" width="2.5" height="2.5" fill="#fff" fill-opacity="0.5" stroke="#5c5c5c" stroke-width="0.7"/>
<rect x="96.75" y="197.75" width="2.5" height="2.5" fill="#fff" fill-opacity="0.5" stroke="#5c5c5c" stroke-width="0.7"/>
<rect x="100.25" y="198.25" width="2.5" height="2.5" fill="#fff" fill-opacity="0.5" stroke="#5c5c5c" stroke-width="0.7"/>
<rect x="93.75" y="202.15" width="2.5" height="2.5" fill="#fff" fill-opacity="0.5" stroke="#5c5c5c" stroke-width="0.7"/>
<rect x="100.25" y="202.65" width="2.5" height="2.5" fill="#fff" fill-opacity="0.5" stroke="#5c5c5c" stroke-width="0.7"/>
<rect x="96.25" y="203.75" width="2.5" height="2.5" fill="#fff" fill-opacity="0.5" stroke="#5c5c5c" stroke-width="0.7"/>
<rect x="96.75" y="207.35" width="2.5" height="2.5" fill="#fff" fill-opacity="0.5" stroke="#5c5c5c" stroke-width="0.7"/>
<rect x="100.25" y="207.35" width="2.5" height="2.5" fill="#fff" fill-opacity="0.5" stroke="#5c5c5c" stroke-width="0.7"/>
<rect x="97.15" y="212.85" width="2.5" height="2.5" fill="#fff" fill-opacity="0.5" stroke="#5c5c5c" stroke-width="0.7"/>
<rect x="97.15" y="216.55" width="2.5" height="2.5" fill="#fff" fill-opacity="0.5" stroke="#5c5c5c" stroke-width="0.7"/>
<rect x="129.10" y="189.10" width="2.8" height="2.8" fill="#111"/>
<rect x="129.10" y="198.90" width="2.8" height="2.8" fill="#111"/>
<rect x="125.60" y="201.30" width="2.8" height="2.8" fill="#111"/>
<rect x="129.10" y="201.00" width="2.8" height="2.8" fill="#111"/>
<rect x="132.30" y="201.30" width="2.8" height="2.8" fill="#111"/>
<rect x="125.10" y="202.60" width="2.8" height="2.8" fill="#111"/>
<rect x="129.10" y="203.60" width="2.8" height="2.8" fill="#111"/>
<rect x="132.60" y="202.60" width="2.8" height="2.8" fill="#111"/>
<rect x="125.70" y="213.10" width="2.8" height="2.8" fill="#111"/>
<rect x="129.30" y="214.50" width="2.8" height="2.8" fill="#111"/>
<rect x="129.30" y="218.60" width="2.8" height="2.8" fill="#111"/>
<rect x="125.70" y="220.40" width="2.8" height="2.8" fill="#111"/>
<rect x="132.50" y="221.30" width="2.8" height="2.8" fill="#111"/>
<rect x="125.70" y="222.80" width="2.8" height="2.8" fill="#111"/>
<rect x="128.80" y="222.60" width="2.8" height="2.8" fill="#111"/>
<rect x="129.10" y="225.80" width="2.8" height="2.8" fill="#111"/>
<rect x="129.10" y="228.50" width="2.8" height="2.8" fill="#111"/>
<rect x="129.10" y="236.10" width="2.8" height="2.8" fill="#111"/>
<rect x="129.10" y="240.40" width="2.8" height="2.8" fill="#111"/>
<rect x="129.10" y="248.60" width="2.8" height="2.8" fill="#111"/>
<rect x="129.10" y="253.40" width="2.8" height="2.8" fill="#111"/>
<rect x="145.35" y="176.75" width="2.5" height="2.5" fill="#fff" fill-opacity="0.5" stroke="#5c5c5c" stroke-width="0.7"/>
<rect x="142.15" y="183.75" width="2.5" height="2.5" fill="#fff" fill-opacity="0.5" stroke="#5c5c5c" stroke-width="0.7"/>
<rect x="145.35" y="183.75" width="2.5" height="2.5" fill="#fff" fill-opacity="0.5" stroke="#5c5c5c" stroke-width="0.7"/>
<rect x="148.35" y="184.05" width="2.5" height="2.5" fill="#fff" fill-opacity="0.5" stroke="#5c5c5c" stroke-width="0.7"/>
<rect x="142.15" y="185.95" width="2.5" height="2.5" fill="#fff" fill-opacity="0.5" stroke="#5c5c5c" stroke-width="0.7"/>
<rect x="145.35" y="185.95" width="2.5" height="2.5" fill="#fff" fill-opacity="0.5" stroke="#5c5c5c" stroke-width="0.7"/>
<rect x="148.35" y="185.95" width="2.5" height="2.5" fill="#fff" fill-opacity="0.5" stroke="#5c5c5c" stroke-width="0.7"/>
<rect x="143.75" y="188.15" width="2.5" height="2.5" fill="#fff" fill-opacity="0.5" stroke="#5c5c5c" stroke-width="0.7"/>
<rect x="146.95" y="188.15" width="2.5" height="2.5" fill="#fff" fill-opacity="0.5" stroke="#5c5c5c" stroke-width="0.7"/>
<rect x="142.15" y="190.35" width="2.5" height="2.5" fill="#fff" fill-opacity="0.5" stroke="#5c5c5c" stroke-width="0.7"/>
<rect x="145.35" y="190.35" width="2.5" height="2.5" fill="#fff" fill-opacity="0.5" stroke="#5c5c5c" stroke-width="0.7"/>
<rect x="148.35" y="190.35" width="2.5" height="2.5" fill="#fff" fill-opacity="0.5" stroke="#5c5c5c" stroke-width="0.7"/>
<rect x="142.15" y="192.55" width="2.5" height="2.5" fill="#fff" fill-opacity="0.5" stroke="#5c5c5c" stroke-width="0.7"/>
<rect x="144.85" y="192.55" width="2.5" height="2.5" fill="#fff" fill-opacity="0.5" stroke="#5c5c5c" stroke-width="0.7"/>
<rect x="147.85" y="192.55" width="2.5" height="2.5" fill="#fff" fill-opacity="0.5" stroke="#5c5c5c" stroke-width="0.7"/>
<rect x="143.75" y="194.75" width="2.5" height="2.5" fill="#fff" fill-opacity="0.5" stroke="#5c5c5c" stroke-width="0.7"/>
<rect x="146.95" y="194.75" width="2.5" height="2.5" fill="#fff" fill-opacity="0.5" stroke="#5c5c5c" stroke-width="0.7"/>
<rect x="142.15" y="196.95" width="2.5" height="2.5" fill="#fff" fill-opacity="0.5" stroke="#5c5c5c" stroke-width="0.7"/>
<rect x="145.35" y="196.95" width="2.5" height="2.5" fill="#fff" fill-opacity="0.5" stroke="#5c5c5c" stroke-width="0.7"/>
<rect x="148.35" y="196.95" width="2.5" height="2.5" fill="#fff" fill-opacity="0.5" stroke="#5c5c5c" stroke-width="0.7"/>
<rect x="143.75" y="199.15" width="2.5" height="2.5" fill="#fff" fill-opacity="0.5" stroke="#5c5c5c" stroke-width="0.7"/>
<rect x="146.95" y="199.15" width="2.5" height="2.5" fill="#fff" fill-opacity="0.5" stroke="#5c5c5c" stroke-width="0.7"/>
<rect x="142.15" y="201.35" width="2.5" height="2.5" fill="#fff" fill-opacity="0.5" stroke="#5c5c5c" stroke-width="0.7"/>
<rect x="145.35" y="201.35" width="2.5" height="2.5" fill="#fff" fill-opacity="0.5" stroke="#5c5c5c" stroke-width="0.7"/>
<rect x="148.35" y="201.35" width="2.5" height="2.5" fill="#fff" fill-opacity="0.5" stroke="#5c5c5c" stroke-width="0.7"/>
<rect x="143.75" y="203.55" width="2.5" height="2.5" fill="#fff" fill-opacity="0.5" stroke="#5c5c5c" stroke-width="0.7"/>
<rect x="146.95" y="203.55" width="2.5" height="2.5" fill="#fff" fill-opacity="0.5" stroke="#5c5c5c" stroke-width="0.7"/>
<rect x="142.15" y="205.75" width="2.5" height="2.5" fill="#fff" fill-opacity="0.5" stroke="#5c5c5c" stroke-width="0.7"/>
<rect x="145.35" y="205.75" width="2.5" height="2.5" fill="#fff" fill-opacity="0.5" stroke="#5c5c5c" stroke-width="0.7"/>
<rect x="143.35" y="207.75" width="2.5" height="2.5" fill="#fff" fill-opacity="0.5" stroke="#5c5c5c" stroke-width="0.7"/>
<rect x="145.85" y="207.75" width="2.5" height="2.5" fill="#fff" fill-opacity="0.5" stroke="#5c5c5c" stroke-width="0.7"/>
<rect x="148.35" y="212.55" width="2.5" height="2.5" fill="#fff" fill-opacity="0.5" stroke="#5c5c5c" stroke-width="0.7"/>
<rect x="145.35" y="214.05" width="2.5" height="2.5" fill="#fff" fill-opacity="0.5" stroke="#5c5c5c" stroke-width="0.7"/>
<rect x="145.35" y="217.05" width="2.5" height="2.5" fill="#fff" fill-opacity="0.5" stroke="#5c5c5c" stroke-width="0.7"/>
<rect x="145.35" y="224.75" width="2.5" height="2.5" fill="#fff" fill-opacity="0.5" stroke="#5c5c5c" stroke-width="0.7"/>
<rect x="177.20" y="185.00" width="2.8" height="2.8" fill="#111"/>
<rect x="177.20" y="189.10" width="2.8" height="2.8" fill="#111"/>
<rect x="173.70" y="198.80" width="2.8" height="2.8" fill="#111"/>
<rect x="177.20" y="198.30" width="2.8" height="2.8" fill="#111"/>
<rect x="180.60" y="199.20" width="2.8" height="2.8" fill="#111"/>
<rect x="177.20" y="201.60" width="2.8" height="2.8" fill="#111"/>
<rect x="173.70" y="204.00" width="2.8" height="2.8" fill="#111"/>
<rect x="177.20" y="203.50" width="2.8" height="2.8" fill="#111"/>
<rect x="180.60" y="204.00" width="2.8" height="2.8" fill="#111"/>
<rect x="173.70" y="205.90" width="2.8" height="2.8" fill="#111"/>
<rect x="177.20" y="206.80" width="2.8" height="2.8" fill="#111"/>
<rect x="180.60" y="207.30" width="2.8" height="2.8" fill="#111"/>
<rect x="177.20" y="208.60" width="2.8" height="2.8" fill="#111"/>
<rect x="173.70" y="212.50" width="2.8" height="2.8" fill="#111"/>
<rect x="180.60" y="212.50" width="2.8" height="2.8" fill="#111"/>
<rect x="173.70" y="214.90" width="2.8" height="2.8" fill="#111"/>
<rect x="177.20" y="215.20" width="2.8" height="2.8" fill="#111"/>
<rect x="180.60" y="215.80" width="2.8" height="2.8" fill="#111"/>
<rect x="177.20" y="218.20" width="2.8" height="2.8" fill="#111"/>
<rect x="177.20" y="221.50" width="2.8" height="2.8" fill="#111"/>
<rect x="173.70" y="228.40" width="2.8" height="2.8" fill="#111"/>
<rect x="177.20" y="228.80" width="2.8" height="2.8" fill="#111"/>
<rect x="180.60" y="228.40" width="2.8" height="2.8" fill="#111"/>
<rect x="196.75" y="182.05" width="2.5" height="2.5" fill="#fff" fill-opacity="0.5" stroke="#5c5c5c" stroke-width="0.7"/>
<rect x="190.75" y="185.05" width="2.5" height="2.5" fill="#fff" fill-opacity="0.5" stroke="#5c5c5c" stroke-width="0.7"/>
<rect x="193.65" y="185.05" width="2.5" height="2.5" fill="#fff" fill-opacity="0.5" stroke="#5c5c5c" stroke-width="0.7"/>
<rect x="196.65" y="185.05" width="2.5" height="2.5" fill="#fff" fill-opacity="0.5" stroke="#5c5c5c" stroke-width="0.7"/>
<rect x="189.75" y="187.25" width="2.5" height="2.5" fill="#fff" fill-opacity="0.5" stroke="#5c5c5c" stroke-width="0.7"/>
<rect x="192.75" y="187.25" width="2.5" height="2.5" fill="#fff" fill-opacity="0.5" stroke="#5c5c5c" stroke-width="0.7"/>
<rect x="195.75" y="187.25" width="2.5" height="2.5" fill="#fff" fill-opacity="0.5" stroke="#5c5c5c" stroke-width="0.7"/>
<rect x="197.75" y="187.25" width="2.5" height="2.5" fill="#fff" fill-opacity="0.5" stroke="#5c5c5c" stroke-width="0.7"/>
<rect x="190.25" y="189.45" width="2.5" height="2.5" fill="#fff" fill-opacity="0.5" stroke="#5c5c5c" stroke-width="0.7"/>
<rect x="193.25" y="189.45" width="2.5" height="2.5" fill="#fff" fill-opacity="0.5" stroke="#5c5c5c" stroke-width="0.7"/>
<rect x="196.25" y="189.45" width="2.5" height="2.5" fill="#fff" fill-opacity="0.5" stroke="#5c5c5c" stroke-width="0.7"/>
<rect x="189.75" y="191.75" width="2.5" height="2.5" fill="#fff" fill-opacity="0.5" stroke="#5c5c5c" stroke-width="0.7"/>
<rect x="192.75" y="191.75" width="2.5" height="2.5" fill="#fff" fill-opacity="0.5" stroke="#5c5c5c" stroke-width="0.7"/>
<rect x="195.75" y="191.75" width="2.5" height="2.5" fill="#fff" fill-opacity="0.5" stroke="#5c5c5c" stroke-width="0.7"/>
<rect x="197.75" y="191.75" width="2.5" height="2.5" fill="#fff" fill-opacity="0.5" stroke="#5c5c5c" stroke-width="0.7"/>
<rect x="190.25" y="194.05" width="2.5" height="2.5" fill="#fff" fill-opacity="0.5" stroke="#5c5c5c" stroke-width="0.7"/>
<rect x="193.25" y="194.05" width="2.5" height="2.5" fill="#fff" fill-opacity="0.5" stroke="#5c5c5c" stroke-width="0.7"/>
<rect x="196.25" y="194.05" width="2.5" height="2.5" fill="#fff" fill-opacity="0.5" stroke="#5c5c5c" stroke-width="0.7"/>
<rect x="191.25" y="196.35" width="2.5" height="2.5" fill="#fff" fill-opacity="0.5" stroke="#5c5c5c" stroke-width="0.7"/>
<rect x="194.25" y="196.35" width="2.5" height="2.5" fill="#fff" fill-opacity="0.5" stroke="#5c5c5c" stroke-width="0.7"/>
<rect x="192.25" y="199.65" width="2.5" height="2.5" fill="#fff" fill-opacity="0.5" stroke="#5c5c5c" stroke-width="0.7"/>
<rect x="195.75" y="200.25" width="2.5" height="2.5" fill="#fff" fill-opacity="0.5" stroke="#5c5c5c" stroke-width="0.7"/>
<rect x="192.75" y="202.55" width="2.5" height="2.5" fill="#fff" fill-opacity="0.5" stroke="#5c5c5c" stroke-width="0.7"/>
<rect x="189.75" y="205.55" width="2.5" height="2.5" fill="#fff" fill-opacity="0.5" stroke="#5c5c5c" stroke-width="0.7"/>
<rect x="192.75" y="206.25" width="2.5" height="2.5" fill="#fff" fill-opacity="0.5" stroke="#5c5c5c" stroke-width="0.7"/>
<rect x="196.25" y="205.75" width="2.5" height="2.5" fill="#fff" fill-opacity="0.5" stroke="#5c5c5c" stroke-width="0.7"/>
<rect x="193.65" y="213.65" width="2.5" height="2.5" fill="#fff" fill-opacity="0.5" stroke="#5c5c5c" stroke-width="0.7"/>
<rect x="193.65" y="222.15" width="2.5" height="2.5" fill="#fff" fill-opacity="0.5" stroke="#5c5c5c" stroke-width="0.7"/>
<rect x="225.50" y="181.80" width="2.8" height="2.8" fill="#111"/>
<rect x="225.50" y="191.40" width="2.8" height="2.8" fill="#111"/>
<rect x="222.10" y="194.40" width="2.8" height="2.8" fill="#111"/>
<rect x="228.60" y="193.50" width="2.8" height="2.8" fill="#111"/>
<rect x="222.10" y="196.90" width="2.8" height="2.8" fill="#111"/>
<rect x="225.50" y="196.50" width="2.8" height="2.8" fill="#111"/>
<rect x="228.60" y="198.60" width="2.8" height="2.8" fill="#111"/>
<rect x="225.50" y="199.50" width="2.8" height="2.8" fill="#111"/>
<rect x="222.10" y="202.50" width="2.8" height="2.8" fill="#111"/>
<rect x="225.60" y="201.60" width="2.8" height="2.8" fill="#111"/>
<rect x="228.60" y="203.30" width="2.8" height="2.8" fill="#111"/>
<rect x="222.10" y="205.10" width="2.8" height="2.8" fill="#111"/>
<rect x="225.60" y="204.60" width="2.8" height="2.8" fill="#111"/>
<rect x="229.10" y="206.80" width="2.8" height="2.8" fill="#111"/>
<rect x="225.50" y="208.00" width="2.8" height="2.8" fill="#111"/>
<rect x="241.35" y="186.05" width="2.5" height="2.5" fill="#fff" fill-opacity="0.5" stroke="#5c5c5c" stroke-width="0.7"/>
<rect x="241.35" y="189.85" width="2.5" height="2.5" fill="#fff" fill-opacity="0.5" stroke="#5c5c5c" stroke-width="0.7"/>
<rect x="238.25" y="193.25" width="2.5" height="2.5" fill="#fff" fill-opacity="0.5" stroke="#5c5c5c" stroke-width="0.7"/>
<rect x="241.35" y="193.25" width="2.5" height="2.5" fill="#fff" fill-opacity="0.5" stroke="#5c5c5c" stroke-width="0.7"/>
<rect x="244.75" y="193.25" width="2.5" height="2.5" fill="#fff" fill-opacity="0.5" stroke="#5c5c5c" stroke-width="0.7"/>
<rect x="238.25" y="203.45" width="2.5" height="2.5" fill="#fff" fill-opacity="0.5" stroke="#5c5c5c" stroke-width="0.7"/>
<rect x="241.75" y="204.25" width="2.5" height="2.5" fill="#fff" fill-opacity="0.5" stroke="#5c5c5c" stroke-width="0.7"/>
<rect x="244.75" y="204.25" width="2.5" height="2.5" fill="#fff" fill-opacity="0.5" stroke="#5c5c5c" stroke-width="0.7"/>
<rect x="241.35" y="238.55" width="2.5" height="2.5" fill="#fff" fill-opacity="0.5" stroke="#5c5c5c" stroke-width="0.7"/>
<line x1="29.1" y1="214.5" x2="39.8" y2="214.5" stroke="#222" stroke-width="0.9"/>
<line x1="44.5" y1="192.5" x2="56" y2="192.5" stroke="#222" stroke-width="0.9"/>
<line x1="77.1" y1="214.5" x2="88" y2="214.5" stroke="#222" stroke-width="0.9"/>
<line x1="92.7" y1="192.5" x2="104.2" y2="192.5" stroke="#222" stroke-width="0.9"/>
<line x1="125.3" y1="208.5" x2="136" y2="208.5" stroke="#222" stroke-width="0.9"/>
<line x1="141.3" y1="195.5" x2="151.8" y2="195.5" stroke="#222" stroke-width="0.9"/>
<line x1="173.6" y1="205.5" x2="184.4" y2="205.5" stroke="#222" stroke-width="0.9"/>
<line x1="189.4" y1="193.5" x2="200.4" y2="193.5" stroke="#222" stroke-width="0.9"/>
<line x1="221.5" y1="197.5" x2="232.6" y2="197.5" stroke="#222" stroke-width="0.9"/>
<line x1="237.3" y1="197.5" x2="248" y2="197.5" stroke="#222" stroke-width="0.9"/>
<rect x="93.8" y="184.5" width="10.00" height="8.30" rx="1.2" fill="#111" fill-opacity="0.4"/>
<rect x="142.3" y="193.6" width="8.50" height="4.80" rx="1.2" fill="#111" fill-opacity="0.45"/>
<rect x="30.10" y="342.40" width="2.8" height="2.8" fill="#111"/>
<rect x="30.10" y="379.50" width="2.8" height="2.8" fill="#111"/>
<rect x="30.10" y="398.70" width="2.8" height="2.8" fill="#111"/>
<rect x="45.95" y="365.75" width="2.5" height="2.5" fill="#fff" fill-opacity="0.5" stroke="#5c5c5c" stroke-width="0.7"/>
<rect x="45.95" y="369.35" width="2.5" height="2.5" fill="#fff" fill-opacity="0.5" stroke="#5c5c5c" stroke-width="0.7"/>
<rect x="42.55" y="377.95" width="2.5" height="2.5" fill="#fff" fill-opacity="0.5" stroke="#5c5c5c" stroke-width="0.7"/>
<rect x="45.95" y="379.55" width="2.5" height="2.5" fill="#fff" fill-opacity="0.5" stroke="#5c5c5c" stroke-width="0.7"/>
<rect x="45.95" y="386.35" width="2.5" height="2.5" fill="#fff" fill-opacity="0.5" stroke="#5c5c5c" stroke-width="0.7"/>
<rect x="45.95" y="388.65" width="2.5" height="2.5" fill="#fff" fill-opacity="0.5" stroke="#5c5c5c" stroke-width="0.7"/>
<rect x="45.95" y="390.75" width="2.5" height="2.5" fill="#fff" fill-opacity="0.5" stroke="#5c5c5c" stroke-width="0.7"/>
<rect x="45.95" y="397.85" width="2.5" height="2.5" fill="#fff" fill-opacity="0.5" stroke="#5c5c5c" stroke-width="0.7"/>
<rect x="42.55" y="401.05" width="2.5" height="2.5" fill="#fff" fill-opacity="0.5" stroke="#5c5c5c" stroke-width="0.7"/>
<rect x="45.95" y="401.05" width="2.5" height="2.5" fill="#fff" fill-opacity="0.5" stroke="#5c5c5c" stroke-width="0.7"/>
<rect x="49.35" y="401.05" width="2.5" height="2.5" fill="#fff" fill-opacity="0.5" stroke="#5c5c5c" stroke-width="0.7"/>
<rect x="45.95" y="402.95" width="2.5" height="2.5" fill="#fff" fill-opacity="0.5" stroke="#5c5c5c" stroke-width="0.7"/>
<rect x="45.95" y="407.75" width="2.5" height="2.5" fill="#fff" fill-opacity="0.5" stroke="#5c5c5c" stroke-width="0.7"/>
<rect x="78.10" y="318.80" width="2.8" height="2.8" fill="#111"/>
<rect x="78.10" y="332.50" width="2.8" height="2.8" fill="#111"/>
<rect x="74.80" y="342.30" width="2.8" height="2.8" fill="#111"/>
<rect x="78.10" y="342.70" width="2.8" height="2.8" fill="#111"/>
<rect x="78.10" y="357.80" width="2.8" height="2.8" fill="#111"/>
<rect x="74.80" y="361.50" width="2.8" height="2.8" fill="#111"/>
<rect x="78.10" y="363.10" width="2.8" height="2.8" fill="#111"/>
<rect x="81.40" y="361.50" width="2.8" height="2.8" fill="#111"/>
<rect x="78.10" y="370.70" width="2.8" height="2.8" fill="#111"/>
<rect x="74.80" y="379.60" width="2.8" height="2.8" fill="#111"/>
<rect x="78.10" y="382.00" width="2.8" height="2.8" fill="#111"/>
<rect x="81.40" y="383.80" width="2.8" height="2.8" fill="#111"/>
<rect x="78.10" y="386.00" width="2.8" height="2.8" fill="#111"/>
<rect x="94.35" y="371.55" width="2.5" height="2.5" fill="#fff" fill-opacity="0.5" stroke="#5c5c5c" stroke-width="0.7"/>
<rect x="97.75" y="370.55" width="2.5" height="2.5" fill="#fff" fill-opacity="0.5" stroke="#5c5c5c" stroke-width="0.7"/>
<rect x="91.05" y="376.55" width="2.5" height="2.5" fill="#fff" fill-opacity="0.5" stroke="#5c5c5c" stroke-width="0.7"/>
<rect x="94.35" y="377.25" width="2.5" height="2.5" fill="#fff" fill-opacity="0.5" stroke="#5c5c5c" stroke-width="0.7"/>
<rect x="97.75" y="375.75" width="2.5" height="2.5" fill="#fff" fill-opacity="0.5" stroke="#5c5c5c" stroke-width="0.7"/>
<rect x="91.05" y="385.75" width="2.5" height="2.5" fill="#fff" fill-opacity="0.5" stroke="#5c5c5c" stroke-width="0.7"/>
<rect x="94.35" y="384.75" width="2.5" height="2.5" fill="#fff" fill-opacity="0.5" stroke="#5c5c5c" stroke-width="0.7"/>
<rect x="97.75" y="385.35" width="2.5" height="2.5" fill="#fff" fill-opacity="0.5" stroke="#5c5c5c" stroke-width="0.7"/>
<rect x="91.05" y="387.85" width="2.5" height="2.5" fill="#fff" fill-opacity="0.5" stroke="#5c5c5c" stroke-width="0.7"/>
<rect x="94.35" y="388.05" width="2.5" height="2.5" fill="#fff" fill-opacity="0.5" stroke="#5c5c5c" stroke-width="0.7"/>
<rect x="97.75" y="387.85" width="2.5" height="2.5" fill="#fff" fill-opacity="0.5" stroke="#5c5c5c" stroke-width="0.7"/>
<rect x="91.55" y="390.45" width="2.5" height="2.5" fill="#fff" fill-opacity="0.5" stroke="#5c5c5c" stroke-width="0.7"/>
<rect x="94.35" y="392.85" width="2.5" height="2.5" fill="#fff" fill-opacity="0.5" stroke="#5c5c5c" stroke-width="0.7"/>
<rect x="91.05" y="396.15" width="2.5" height="2.5" fill="#fff" fill-opacity="0.5" stroke="#5c5c5c" stroke-width="0.7"/>
<rect x="94.35" y="396.15" width="2.5" height="2.5" fill="#fff" fill-opacity="0.5" stroke="#5c5c5c" stroke-width="0.7"/>
<rect x="97.75" y="396.15" width="2.5" height="2.5" fill="#fff" fill-opacity="0.5" stroke="#5c5c5c" stroke-width="0.7"/>
<rect x="91.05" y="399.25" width="2.5" height="2.5" fill="#fff" fill-opacity="0.5" stroke="#5c5c5c" stroke-width="0.7"/>
<rect x="94.35" y="399.25" width="2.5" height="2.5" fill="#fff" fill-opacity="0.5" stroke="#5c5c5c" stroke-width="0.7"/>
<rect x="97.75" y="399.95" width="2.5" height="2.5" fill="#fff" fill-opacity="0.5" stroke="#5c5c5c" stroke-width="0.7"/>
<rect x="94.35" y="404.25" width="2.5" height="2.5" fill="#fff" fill-opacity="0.5" stroke="#5c5c5c" stroke-width="0.7"/>
<rect x="91.05" y="407.55" width="2.5" height="2.5" fill="#fff" fill-opacity="0.5" stroke="#5c5c5c" stroke-width="0.7"/>
<rect x="94.35" y="407.55" width="2.5" height="2.5" fill="#fff" fill-opacity="0.5" stroke="#5c5c5c" stroke-width="0.7"/>
<rect x="97.75" y="406.65" width="2.5" height="2.5" fill="#fff" fill-opacity="0.5" stroke="#5c5c5c" stroke-width="0.7"/>
<rect x="91.05" y="409.95" width="2.5" height="2.5" fill="#fff" fill-opacity="0.5" stroke="#5c5c5c" stroke-width="0.7"/>
<rect x="97.75" y="409.75" width="2.5" height="2.5" fill="#fff" fill-opacity="0.5" stroke="#5c5c5c" stroke-width="0.7"/>
<rect x="126.10" y="331.40" width="2.8" height="2.8" fill="#111"/>
<rect x="129.40" y="340.20" width="2.8" height="2.8" fill="#111"/>
<rect x="126.10" y="342.90" width="2.8" height="2.8" fill="#111"/>
<rect x="122.80" y="359.10" width="2.8" height="2.8" fill="#111"/>
<rect x="126.10" y="361.60" width="2.8" height="2.8" fill="#111"/>
<rect x="122.80" y="366.70" width="2.8" height="2.8" fill="#111"/>
<rect x="129.40" y="367.10" width="2.8" height="2.8" fill="#111"/>
<rect x="126.10" y="368.40" width="2.8" height="2.8" fill="#111"/>
<rect x="122.80" y="371.60" width="2.8" height="2.8" fill="#111"/>
<rect x="129.40" y="371.60" width="2.8" height="2.8" fill="#111"/>
<rect x="126.10" y="374.20" width="2.8" height="2.8" fill="#111"/>
<rect x="122.80" y="376.90" width="2.8" height="2.8" fill="#111"/>
<rect x="129.40" y="377.90" width="2.8" height="2.8" fill="#111"/>
<rect x="126.10" y="378.80" width="2.8" height="2.8" fill="#111"/>
<rect x="122.80" y="385.30" width="2.8" height="2.8" fill="#111"/>
<rect x="126.10" y="386.60" width="2.8" height="2.8" fill="#111"/>
<rect x="122.60" y="388.30" width="2.8" height="2.8" fill="#111"/>
<rect x="126.10" y="388.80" width="2.8" height="2.8" fill="#111"/>
<rect x="129.60" y="389.90" width="2.8" height="2.8" fill="#111"/>
<rect x="126.10" y="394.50" width="2.8" height="2.8" fill="#111"/>
<rect x="126.10" y="404.90" width="2.8" height="2.8" fill="#111"/>
<rect x="142.85" y="348.35" width="2.5" height="2.5" fill="#fff" fill-opacity="0.5" stroke="#5c5c5c" stroke-width="0.7"/>
<rect x="138.75" y="374.75" width="2.5" height="2.5" fill="#fff" fill-opacity="0.5" stroke="#5c5c5c" stroke-width="0.7"/>
<rect x="142.25" y="376.75" width="2.5" height="2.5" fill="#fff" fill-opacity="0.5" stroke="#5c5c5c" stroke-width="0.7"/>
<rect x="145.45" y="375.95" width="2.5" height="2.5" fill="#fff" fill-opacity="0.5" stroke="#5c5c5c" stroke-width="0.7"/>
<rect x="138.75" y="378.75" width="2.5" height="2.5" fill="#fff" fill-opacity="0.5" stroke="#5c5c5c" stroke-width="0.7"/>
<rect x="142.25" y="378.95" width="2.5" height="2.5" fill="#fff" fill-opacity="0.5" stroke="#5c5c5c" stroke-width="0.7"/>
<rect x="138.75" y="383.15" width="2.5" height="2.5" fill="#fff" fill-opacity="0.5" stroke="#5c5c5c" stroke-width="0.7"/>
<rect x="142.25" y="382.35" width="2.5" height="2.5" fill="#fff" fill-opacity="0.5" stroke="#5c5c5c" stroke-width="0.7"/>
<rect x="142.25" y="384.65" width="2.5" height="2.5" fill="#fff" fill-opacity="0.5" stroke="#5c5c5c" stroke-width="0.7"/>
<rect x="145.45" y="385.15" width="2.5" height="2.5" fill="#fff" fill-opacity="0.5" stroke="#5c5c5c" stroke-width="0.7"/>
<rect x="138.75" y="387.15" width="2.5" height="2.5" fill="#fff" fill-opacity="0.5" stroke="#5c5c5c" stroke-width="0.7"/>
<rect x="142.25" y="387.15" width="2.5" height="2.5" fill="#fff" fill-opacity="0.5" stroke="#5c5c5c" stroke-width="0.7"/>
<rect x="138.75" y="390.15" width="2.5" height="2.5" fill="#fff" fill-opacity="0.5" stroke="#5c5c5c" stroke-width="0.7"/>
<rect x="145.45" y="389.65" width="2.5" height="2.5" fill="#fff" fill-opacity="0.5" stroke="#5c5c5c" stroke-width="0.7"/>
<rect x="142.25" y="391.65" width="2.5" height="2.5" fill="#fff" fill-opacity="0.5" stroke="#5c5c5c" stroke-width="0.7"/>
<rect x="138.75" y="395.15" width="2.5" height="2.5" fill="#fff" fill-opacity="0.5" stroke="#5c5c5c" stroke-width="0.7"/>
<rect x="145.45" y="395.15" width="2.5" height="2.5" fill="#fff" fill-opacity="0.5" stroke="#5c5c5c" stroke-width="0.7"/>
<rect x="142.25" y="396.65" width="2.5" height="2.5" fill="#fff" fill-opacity="0.5" stroke="#5c5c5c" stroke-width="0.7"/>
<rect x="138.75" y="398.65" width="2.5" height="2.5" fill="#fff" fill-opacity="0.5" stroke="#5c5c5c" stroke-width="0.7"/>
<rect x="145.45" y="398.65" width="2.5" height="2.5" fill="#fff" fill-opacity="0.5" stroke="#5c5c5c" stroke-width="0.7"/>
<rect x="142.25" y="400.55" width="2.5" height="2.5" fill="#fff" fill-opacity="0.5" stroke="#5c5c5c" stroke-width="0.7"/>
<rect x="138.75" y="402.55" width="2.5" height="2.5" fill="#fff" fill-opacity="0.5" stroke="#5c5c5c" stroke-width="0.7"/>
<rect x="145.45" y="402.55" width="2.5" height="2.5" fill="#fff" fill-opacity="0.5" stroke="#5c5c5c" stroke-width="0.7"/>
<rect x="142.25" y="404.05" width="2.5" height="2.5" fill="#fff" fill-opacity="0.5" stroke="#5c5c5c" stroke-width="0.7"/>
<rect x="138.75" y="406.05" width="2.5" height="2.5" fill="#fff" fill-opacity="0.5" stroke="#5c5c5c" stroke-width="0.7"/>
<rect x="145.45" y="406.05" width="2.5" height="2.5" fill="#fff" fill-opacity="0.5" stroke="#5c5c5c" stroke-width="0.7"/>
<rect x="142.25" y="407.55" width="2.5" height="2.5" fill="#fff" fill-opacity="0.5" stroke="#5c5c5c" stroke-width="0.7"/>
<rect x="177.60" y="348.70" width="2.8" height="2.8" fill="#111"/>
<rect x="174.60" y="351.40" width="2.8" height="2.8" fill="#111"/>
<rect x="174.60" y="358.10" width="2.8" height="2.8" fill="#111"/>
<rect x="171.30" y="362.90" width="2.8" height="2.8" fill="#111"/>
<rect x="174.60" y="364.10" width="2.8" height="2.8" fill="#111"/>
<rect x="177.60" y="363.50" width="2.8" height="2.8" fill="#111"/>
<rect x="177.60" y="365.50" width="2.8" height="2.8" fill="#111"/>
<rect x="171.30" y="367.30" width="2.8" height="2.8" fill="#111"/>
<rect x="174.60" y="368.20" width="2.8" height="2.8" fill="#111"/>
<rect x="171.30" y="373.20" width="2.8" height="2.8" fill="#111"/>
<rect x="174.60" y="374.10" width="2.8" height="2.8" fill="#111"/>
<rect x="177.60" y="373.60" width="2.8" height="2.8" fill="#111"/>
<rect x="177.60" y="382.20" width="2.8" height="2.8" fill="#111"/>
<rect x="171.20" y="383.90" width="2.8" height="2.8" fill="#111"/>
<rect x="174.20" y="384.40" width="2.8" height="2.8" fill="#111"/>
<rect x="171.20" y="386.60" width="2.8" height="2.8" fill="#111"/>
<rect x="174.20" y="386.40" width="2.8" height="2.8" fill="#111"/>
<rect x="177.40" y="386.20" width="2.8" height="2.8" fill="#111"/>
<rect x="171.20" y="389.00" width="2.8" height="2.8" fill="#111"/>
<rect x="174.20" y="388.80" width="2.8" height="2.8" fill="#111"/>
<rect x="177.40" y="389.20" width="2.8" height="2.8" fill="#111"/>
<rect x="172.70" y="390.40" width="2.8" height="2.8" fill="#111"/>
<rect x="177.60" y="393.70" width="2.8" height="2.8" fill="#111"/>
<rect x="174.20" y="396.40" width="2.8" height="2.8" fill="#111"/>
<rect x="190.95" y="353.55" width="2.5" height="2.5" fill="#fff" fill-opacity="0.5" stroke="#5c5c5c" stroke-width="0.7"/>
<rect x="188.25" y="362.45" width="2.5" height="2.5" fill="#fff" fill-opacity="0.5" stroke="#5c5c5c" stroke-width="0.7"/>
<rect x="191.25" y="362.45" width="2.5" height="2.5" fill="#fff" fill-opacity="0.5" stroke="#5c5c5c" stroke-width="0.7"/>
<rect x="190.95" y="369.75" width="2.5" height="2.5" fill="#fff" fill-opacity="0.5" stroke="#5c5c5c" stroke-width="0.7"/>
<rect x="187.75" y="373.55" width="2.5" height="2.5" fill="#fff" fill-opacity="0.5" stroke="#5c5c5c" stroke-width="0.7"/>
<rect x="191.25" y="373.55" width="2.5" height="2.5" fill="#fff" fill-opacity="0.5" stroke="#5c5c5c" stroke-width="0.7"/>
<rect x="194.25" y="373.55" width="2.5" height="2.5" fill="#fff" fill-opacity="0.5" stroke="#5c5c5c" stroke-width="0.7"/>
<rect x="187.75" y="376.75" width="2.5" height="2.5" fill="#fff" fill-opacity="0.5" stroke="#5c5c5c" stroke-width="0.7"/>
<rect x="191.25" y="376.75" width="2.5" height="2.5" fill="#fff" fill-opacity="0.5" stroke="#5c5c5c" stroke-width="0.7"/>
<rect x="191.25" y="380.25" width="2.5" height="2.5" fill="#fff" fill-opacity="0.5" stroke="#5c5c5c" stroke-width="0.7"/>
<rect x="194.25" y="382.55" width="2.5" height="2.5" fill="#fff" fill-opacity="0.5" stroke="#5c5c5c" stroke-width="0.7"/>
<rect x="187.25" y="384.55" width="2.5" height="2.5" fill="#fff" fill-opacity="0.5" stroke="#5c5c5c" stroke-width="0.7"/>
<rect x="191.25" y="386.35" width="2.5" height="2.5" fill="#fff" fill-opacity="0.5" stroke="#5c5c5c" stroke-width="0.7"/>
<rect x="194.25" y="386.35" width="2.5" height="2.5" fill="#fff" fill-opacity="0.5" stroke="#5c5c5c" stroke-width="0.7"/>
<rect x="187.25" y="388.75" width="2.5" height="2.5" fill="#fff" fill-opacity="0.5" stroke="#5c5c5c" stroke-width="0.7"/>
<rect x="190.75" y="388.75" width="2.5" height="2.5" fill="#fff" fill-opacity="0.5" stroke="#5c5c5c" stroke-width="0.7"/>
<rect x="194.25" y="388.75" width="2.5" height="2.5" fill="#fff" fill-opacity="0.5" stroke="#5c5c5c" stroke-width="0.7"/>
<rect x="187.75" y="393.75" width="2.5" height="2.5" fill="#fff" fill-opacity="0.5" stroke="#5c5c5c" stroke-width="0.7"/>
<rect x="191.25" y="394.05" width="2.5" height="2.5" fill="#fff" fill-opacity="0.5" stroke="#5c5c5c" stroke-width="0.7"/>
<rect x="194.25" y="393.75" width="2.5" height="2.5" fill="#fff" fill-opacity="0.5" stroke="#5c5c5c" stroke-width="0.7"/>
<rect x="187.75" y="396.25" width="2.5" height="2.5" fill="#fff" fill-opacity="0.5" stroke="#5c5c5c" stroke-width="0.7"/>
<rect x="191.25" y="396.25" width="2.5" height="2.5" fill="#fff" fill-opacity="0.5" stroke="#5c5c5c" stroke-width="0.7"/>
<rect x="194.25" y="396.25" width="2.5" height="2.5" fill="#fff" fill-opacity="0.5" stroke="#5c5c5c" stroke-width="0.7"/>
<rect x="187.75" y="398.75" width="2.5" height="2.5" fill="#fff" fill-opacity="0.5" stroke="#5c5c5c" stroke-width="0.7"/>
<rect x="191.25" y="398.75" width="2.5" height="2.5" fill="#fff" fill-opacity="0.5" stroke="#5c5c5c" stroke-width="0.7"/>
<rect x="194.25" y="398.75" width="2.5" height="2.5" fill="#fff" fill-opacity="0.5" stroke="#5c5c5c" stroke-width="0.7"/>
<rect x="190.75" y="401.75" width="2.5" height="2.5" fill="#fff" fill-opacity="0.5" stroke="#5c5c5c" stroke-width="0.7"/>
<rect x="189.75" y="406.55" width="2.5" height="2.5" fill="#fff" fill-opacity="0.5" stroke="#5c5c5c" stroke-width="0.7"/>
<rect x="192.75" y="404.95" width="2.5" height="2.5" fill="#fff" fill-opacity="0.5" stroke="#5c5c5c" stroke-width="0.7"/>
<rect x="219.10" y="379.60" width="2.8" height="2.8" fill="#111"/>
<rect x="222.60" y="379.60" width="2.8" height="2.8" fill="#111"/>
<rect x="226.10" y="380.10" width="2.8" height="2.8" fill="#111"/>
<rect x="219.10" y="381.60" width="2.8" height="2.8" fill="#111"/>
<rect x="222.60" y="381.60" width="2.8" height="2.8" fill="#111"/>
<rect x="219.10" y="383.90" width="2.8" height="2.8" fill="#111"/>
<rect x="223.10" y="383.60" width="2.8" height="2.8" fill="#111"/>
<rect x="226.40" y="383.90" width="2.8" height="2.8" fill="#111"/>
<rect x="219.10" y="385.90" width="2.8" height="2.8" fill="#111"/>
<rect x="222.60" y="385.90" width="2.8" height="2.8" fill="#111"/>
<rect x="226.10" y="385.90" width="2.8" height="2.8" fill="#111"/>
<rect x="219.10" y="387.90" width="2.8" height="2.8" fill="#111"/>
<rect x="222.60" y="387.90" width="2.8" height="2.8" fill="#111"/>
<rect x="226.10" y="387.90" width="2.8" height="2.8" fill="#111"/>
<rect x="219.60" y="389.90" width="2.8" height="2.8" fill="#111"/>
<rect x="223.10" y="389.90" width="2.8" height="2.8" fill="#111"/>
<rect x="226.10" y="389.90" width="2.8" height="2.8" fill="#111"/>
<rect x="235.25" y="370.05" width="2.5" height="2.5" fill="#fff" fill-opacity="0.5" stroke="#5c5c5c" stroke-width="0.7"/>
<rect x="238.75" y="370.05" width="2.5" height="2.5" fill="#fff" fill-opacity="0.5" stroke="#5c5c5c" stroke-width="0.7"/>
<rect x="238.55" y="377.15" width="2.5" height="2.5" fill="#fff" fill-opacity="0.5" stroke="#5c5c5c" stroke-width="0.7"/>
<rect x="238.55" y="380.05" width="2.5" height="2.5" fill="#fff" fill-opacity="0.5" stroke="#5c5c5c" stroke-width="0.7"/>
<rect x="234.95" y="383.05" width="2.5" height="2.5" fill="#fff" fill-opacity="0.5" stroke="#5c5c5c" stroke-width="0.7"/>
<rect x="238.75" y="384.75" width="2.5" height="2.5" fill="#fff" fill-opacity="0.5" stroke="#5c5c5c" stroke-width="0.7"/>
<rect x="241.75" y="383.95" width="2.5" height="2.5" fill="#fff" fill-opacity="0.5" stroke="#5c5c5c" stroke-width="0.7"/>
<rect x="235.25" y="388.95" width="2.5" height="2.5" fill="#fff" fill-opacity="0.5" stroke="#5c5c5c" stroke-width="0.7"/>
<rect x="238.75" y="390.15" width="2.5" height="2.5" fill="#fff" fill-opacity="0.5" stroke="#5c5c5c" stroke-width="0.7"/>
<rect x="238.55" y="398.45" width="2.5" height="2.5" fill="#fff" fill-opacity="0.5" stroke="#5c5c5c" stroke-width="0.7"/>
<line x1="25.9" y1="356.5" x2="36.9" y2="356.5" stroke="#222" stroke-width="0.9"/>
<line x1="41.8" y1="384.5" x2="52.7" y2="384.5" stroke="#222" stroke-width="0.9"/>
<line x1="74.3" y1="343.5" x2="85.4" y2="343.5" stroke="#222" stroke-width="0.9"/>
<line x1="89.9" y1="388.5" x2="101.3" y2="388.5" stroke="#222" stroke-width="0.9"/>
<line x1="121.6" y1="359.5" x2="133.4" y2="359.5" stroke="#222" stroke-width="0.9"/>
<line x1="138.0" y1="382.5" x2="149.4" y2="382.5" stroke="#222" stroke-width="0.9"/>
<line x1="170.1" y1="371.5" x2="182" y2="371.5" stroke="#222" stroke-width="0.9"/>
<line x1="186.2" y1="380.5" x2="197.4" y2="380.5" stroke="#222" stroke-width="0.9"/>
<line x1="218.1" y1="385.5" x2="229.4" y2="385.5" stroke="#222" stroke-width="0.9"/>
<line x1="234.7" y1="382.5" x2="245.8" y2="382.5" stroke="#222" stroke-width="0.9"/>
<circle cx="309.40" cy="53.40" r="1.6" fill="#111"/>
<circle cx="309.40" cy="57.40" r="1.6" fill="#111"/>
<circle cx="306.00" cy="61.40" r="1.6" fill="#111"/>
<circle cx="309.40" cy="60.50" r="1.6" fill="#111"/>
<circle cx="313.00" cy="62.40" r="1.6" fill="#111"/>
<circle cx="316.00" cy="60.80" r="1.6" fill="#111"/>
<circle cx="309.40" cy="63.80" r="1.6" fill="#111"/>
<circle cx="309.40" cy="70.60" r="1.6" fill="#111"/>
<circle cx="309.40" cy="80.50" r="1.6" fill="#111"/>
<circle cx="343.20" cy="46.60" r="1.3" fill="#fff" stroke="#3a3a3a" stroke-width="0.75"/>
<circle cx="340.00" cy="53.80" r="1.3" fill="#fff" stroke="#3a3a3a" stroke-width="0.75"/>
<circle cx="343.20" cy="56.50" r="1.3" fill="#fff" stroke="#3a3a3a" stroke-width="0.75"/>
<circle cx="343.20" cy="61.40" r="1.3" fill="#fff" stroke="#3a3a3a" stroke-width="0.75"/>
<circle cx="346.50" cy="60.50" r="1.3" fill="#fff" stroke="#3a3a3a" stroke-width="0.75"/>
<circle cx="392.30" cy="53.50" r="1.6" fill="#111"/>
<circle cx="388.80" cy="54.90" r="1.6" fill="#111"/>
<circle cx="392.30" cy="56.80" r="1.6" fill="#111"/>
<circle cx="385.50" cy="57.70" r="1.6" fill="#111"/>
<circle cx="388.80" cy="58.80" r="1.6" fill="#111"/>
<circle cx="382.30" cy="59.40" r="1.6" fill="#111"/>
<circle cx="395.30" cy="59.90" r="1.6" fill="#111"/>
<circle cx="385.50" cy="59.90" r="1.6" fill="#111"/>
<circle cx="392.30" cy="60.60" r="1.6" fill="#111"/>
<circle cx="388.80" cy="61.30" r="1.6" fill="#111"/>
<circle cx="385.50" cy="63.30" r="1.6" fill="#111"/>
<circle cx="392.30" cy="62.90" r="1.6" fill="#111"/>
<circle cx="388.80" cy="65.50" r="1.6" fill="#111"/>
<circle cx="388.80" cy="72.20" r="1.6" fill="#111"/>
<circle cx="422.70" cy="50.30" r="1.3" fill="#fff" stroke="#3a3a3a" stroke-width="0.75"/>
<circle cx="426.30" cy="50.30" r="1.3" fill="#fff" stroke="#3a3a3a" stroke-width="0.75"/>
<circle cx="422.70" cy="54.70" r="1.3" fill="#fff" stroke="#3a3a3a" stroke-width="0.75"/>
<circle cx="419.60" cy="57.40" r="1.3" fill="#fff" stroke="#3a3a3a" stroke-width="0.75"/>
<circle cx="422.70" cy="56.70" r="1.3" fill="#fff" stroke="#3a3a3a" stroke-width="0.75"/>
<circle cx="422.70" cy="58.70" r="1.3" fill="#fff" stroke="#3a3a3a" stroke-width="0.75"/>
<circle cx="426.30" cy="58.10" r="1.3" fill="#fff" stroke="#3a3a3a" stroke-width="0.75"/>
<circle cx="429.50" cy="56.40" r="1.3" fill="#fff" stroke="#3a3a3a" stroke-width="0.75"/>
<circle cx="422.90" cy="95.20" r="1.3" fill="#fff" stroke="#3a3a3a" stroke-width="0.75"/>
<circle cx="422.90" cy="101.50" r="1.3" fill="#fff" stroke="#3a3a3a" stroke-width="0.75"/>
<circle cx="468.30" cy="42.80" r="1.6" fill="#111"/>
<circle cx="465.00" cy="45.90" r="1.6" fill="#111"/>
<circle cx="468.30" cy="48.30" r="1.6" fill="#111"/>
<circle cx="465.00" cy="52.90" r="1.6" fill="#111"/>
<circle cx="468.30" cy="54.80" r="1.6" fill="#111"/>
<circle cx="471.50" cy="53.90" r="1.6" fill="#111"/>
<circle cx="461.80" cy="56.30" r="1.6" fill="#111"/>
<circle cx="465.00" cy="56.30" r="1.6" fill="#111"/>
<circle cx="471.50" cy="56.30" r="1.6" fill="#111"/>
<circle cx="474.80" cy="55.30" r="1.6" fill="#111"/>
<circle cx="458.50" cy="58.90" r="1.6" fill="#111"/>
<circle cx="461.80" cy="59.80" r="1.6" fill="#111"/>
<circle cx="465.00" cy="58.40" r="1.6" fill="#111"/>
<circle cx="465.00" cy="60.50" r="1.6" fill="#111"/>
<circle cx="468.30" cy="58.40" r="1.6" fill="#111"/>
<circle cx="474.80" cy="60.00" r="1.6" fill="#111"/>
<circle cx="478.00" cy="58.90" r="1.6" fill="#111"/>
<circle cx="468.30" cy="62.00" r="1.6" fill="#111"/>
<circle cx="471.50" cy="61.50" r="1.6" fill="#111"/>
<circle cx="465.00" cy="66.70" r="1.6" fill="#111"/>
<circle cx="468.30" cy="66.70" r="1.6" fill="#111"/>
<circle cx="468.30" cy="73.20" r="1.6" fill="#111"/>
<circle cx="502.20" cy="52.10" r="1.3" fill="#fff" stroke="#3a3a3a" stroke-width="0.75"/>
<circle cx="502.20" cy="56.00" r="1.3" fill="#fff" stroke="#3a3a3a" stroke-width="0.75"/>
<circle cx="505.50" cy="54.90" r="1.3" fill="#fff" stroke="#3a3a3a" stroke-width="0.75"/>
<circle cx="505.50" cy="58.50" r="1.3" fill="#fff" stroke="#3a3a3a" stroke-width="0.75"/>
<circle cx="498.80" cy="60.30" r="1.3" fill="#fff" stroke="#3a3a3a" stroke-width="0.75"/>
<circle cx="502.20" cy="59.50" r="1.3" fill="#fff" stroke="#3a3a3a" stroke-width="0.75"/>
<circle cx="498.80" cy="62.00" r="1.3" fill="#fff" stroke="#3a3a3a" stroke-width="0.75"/>
<circle cx="502.20" cy="61.30" r="1.3" fill="#fff" stroke="#3a3a3a" stroke-width="0.75"/>
<circle cx="502.20" cy="64.90" r="1.3" fill="#fff" stroke="#3a3a3a" stroke-width="0.75"/>
<circle cx="505.50" cy="64.20" r="1.3" fill="#fff" stroke="#3a3a3a" stroke-width="0.75"/>
<line x1="298.3" y1="61.5" x2="321.3" y2="61.5" stroke="#222" stroke-width="0.9"/>
<line x1="332.2" y1="54.5" x2="355.5" y2="54.5" stroke="#222" stroke-width="0.9"/>
<line x1="377.8" y1="59.5" x2="400.2" y2="59.5" stroke="#222" stroke-width="0.9"/>
<line x1="411.2" y1="57.5" x2="434.5" y2="57.5" stroke="#222" stroke-width="0.9"/>
<line x1="457" y1="55.5" x2="479.8" y2="55.5" stroke="#222" stroke-width="0.9"/>
<line x1="490.5" y1="58.5" x2="514" y2="58.5" stroke="#222" stroke-width="0.9"/>
<circle cx="309.40" cy="199.50" r="1.6" fill="#111"/>
<circle cx="309.40" cy="219.90" r="1.6" fill="#111"/>
<circle cx="309.40" cy="223.80" r="1.6" fill="#111"/>
<circle cx="312.70" cy="227.40" r="1.6" fill="#111"/>
<circle cx="309.40" cy="229.80" r="1.6" fill="#111"/>
<circle cx="306.00" cy="241.30" r="1.6" fill="#111"/>
<circle cx="309.40" cy="241.30" r="1.6" fill="#111"/>
<circle cx="309.40" cy="248.00" r="1.6" fill="#111"/>
<circle cx="340.00" cy="200.20" r="1.3" fill="#fff" stroke="#3a3a3a" stroke-width="0.75"/>
<circle cx="343.30" cy="203.20" r="1.3" fill="#fff" stroke="#3a3a3a" stroke-width="0.75"/>
<circle cx="346.50" cy="202.70" r="1.3" fill="#fff" stroke="#3a3a3a" stroke-width="0.75"/>
<circle cx="343.30" cy="208.10" r="1.3" fill="#fff" stroke="#3a3a3a" stroke-width="0.75"/>
<circle cx="343.30" cy="225.60" r="1.3" fill="#fff" stroke="#3a3a3a" stroke-width="0.75"/>
<circle cx="388.80" cy="198.80" r="1.6" fill="#111"/>
<circle cx="385.30" cy="211.50" r="1.6" fill="#111"/>
<circle cx="388.80" cy="213.30" r="1.6" fill="#111"/>
<circle cx="385.30" cy="217.70" r="1.6" fill="#111"/>
<circle cx="392.20" cy="217.70" r="1.6" fill="#111"/>
<circle cx="388.80" cy="218.70" r="1.6" fill="#111"/>
<circle cx="382.00" cy="220.50" r="1.6" fill="#111"/>
<circle cx="385.30" cy="221.00" r="1.6" fill="#111"/>
<circle cx="392.20" cy="220.50" r="1.6" fill="#111"/>
<circle cx="395.00" cy="219.60" r="1.6" fill="#111"/>
<circle cx="388.80" cy="222.40" r="1.6" fill="#111"/>
<circle cx="388.80" cy="227.30" r="1.6" fill="#111"/>
<circle cx="388.80" cy="234.80" r="1.6" fill="#111"/>
<circle cx="388.80" cy="247.70" r="1.6" fill="#111"/>
<circle cx="422.30" cy="187.90" r="1.3" fill="#fff" stroke="#3a3a3a" stroke-width="0.75"/>
<circle cx="422.40" cy="198.10" r="1.3" fill="#fff" stroke="#3a3a3a" stroke-width="0.75"/>
<circle cx="415.50" cy="199.20" r="1.3" fill="#fff" stroke="#3a3a3a" stroke-width="0.75"/>
<circle cx="419.30" cy="200.40" r="1.3" fill="#fff" stroke="#3a3a3a" stroke-width="0.75"/>
<circle cx="421.80" cy="200.70" r="1.3" fill="#fff" stroke="#3a3a3a" stroke-width="0.75"/>
<circle cx="423.60" cy="201.30" r="1.3" fill="#fff" stroke="#3a3a3a" stroke-width="0.75"/>
<circle cx="425.30" cy="201.50" r="1.3" fill="#fff" stroke="#3a3a3a" stroke-width="0.75"/>
<circle cx="429.00" cy="200.40" r="1.3" fill="#fff" stroke="#3a3a3a" stroke-width="0.75"/>
<circle cx="422.40" cy="224.30" r="1.3" fill="#fff" stroke="#3a3a3a" stroke-width="0.75"/>
<circle cx="422.40" cy="252.40" r="1.3" fill="#fff" stroke="#3a3a3a" stroke-width="0.75"/>
<circle cx="467.50" cy="183.60" r="1.6" fill="#111"/>
<circle cx="467.50" cy="187.40" r="1.6" fill="#111"/>
<circle cx="467.50" cy="201.60" r="1.6" fill="#111"/>
<circle cx="461.00" cy="203.90" r="1.6" fill="#111"/>
<circle cx="464.30" cy="205.30" r="1.6" fill="#111"/>
<circle cx="467.50" cy="206.30" r="1.6" fill="#111"/>
<circle cx="471.00" cy="205.30" r="1.6" fill="#111"/>
<circle cx="474.00" cy="204.20" r="1.6" fill="#111"/>
<circle cx="461.00" cy="210.60" r="1.6" fill="#111"/>
<circle cx="470.80" cy="211.00" r="1.6" fill="#111"/>
<circle cx="464.30" cy="213.40" r="1.6" fill="#111"/>
<circle cx="467.50" cy="213.90" r="1.6" fill="#111"/>
<circle cx="471.00" cy="214.40" r="1.6" fill="#111"/>
<circle cx="467.50" cy="217.00" r="1.6" fill="#111"/>
<circle cx="467.50" cy="220.50" r="1.6" fill="#111"/>
<circle cx="461.00" cy="226.20" r="1.6" fill="#111"/>
<circle cx="464.30" cy="227.20" r="1.6" fill="#111"/>
<circle cx="467.50" cy="228.40" r="1.6" fill="#111"/>
<circle cx="471.00" cy="227.20" r="1.6" fill="#111"/>
<circle cx="474.30" cy="227.20" r="1.6" fill="#111"/>
<circle cx="498.50" cy="197.10" r="1.3" fill="#fff" stroke="#3a3a3a" stroke-width="0.75"/>
<circle cx="504.50" cy="197.70" r="1.3" fill="#fff" stroke="#3a3a3a" stroke-width="0.75"/>
<circle cx="508.20" cy="196.80" r="1.3" fill="#fff" stroke="#3a3a3a" stroke-width="0.75"/>
<circle cx="501.40" cy="199.70" r="1.3" fill="#fff" stroke="#3a3a3a" stroke-width="0.75"/>
<circle cx="498.50" cy="202.50" r="1.3" fill="#fff" stroke="#3a3a3a" stroke-width="0.75"/>
<circle cx="501.40" cy="202.20" r="1.3" fill="#fff" stroke="#3a3a3a" stroke-width="0.75"/>
<circle cx="504.50" cy="202.50" r="1.3" fill="#fff" stroke="#3a3a3a" stroke-width="0.75"/>
<circle cx="501.40" cy="207.30" r="1.3" fill="#fff" stroke="#3a3a3a" stroke-width="0.75"/>
<circle cx="495.50" cy="200.50" r="1.6" fill="#111"/>
<line x1="297.7" y1="217.5" x2="321.2" y2="217.5" stroke="#222" stroke-width="0.9"/>
<line x1="332" y1="205.5" x2="355.2" y2="205.5" stroke="#222" stroke-width="0.9"/>
<line x1="377.4" y1="215.5" x2="399.8" y2="215.5" stroke="#222" stroke-width="0.9"/>
<line x1="411.2" y1="199.5" x2="434.5" y2="199.5" stroke="#222" stroke-width="0.9"/>
<line x1="456.1" y1="202.5" x2="479.3" y2="202.5" stroke="#222" stroke-width="0.9"/>
<line x1="490.3" y1="200.5" x2="513" y2="200.5" stroke="#222" stroke-width="0.9"/>
<circle cx="306.50" cy="318.70" r="1.6" fill="#111"/>
<circle cx="306.50" cy="332.70" r="1.6" fill="#111"/>
<circle cx="303.50" cy="341.60" r="1.6" fill="#111"/>
<circle cx="306.50" cy="342.60" r="1.6" fill="#111"/>
<circle cx="306.50" cy="358.50" r="1.6" fill="#111"/>
<circle cx="303.50" cy="362.70" r="1.6" fill="#111"/>
<circle cx="306.50" cy="363.70" r="1.6" fill="#111"/>
<circle cx="306.50" cy="384.40" r="1.6" fill="#111"/>
<circle cx="340.50" cy="362.00" r="1.3" fill="#fff" stroke="#3a3a3a" stroke-width="0.75"/>
<circle cx="340.50" cy="371.00" r="1.3" fill="#fff" stroke="#3a3a3a" stroke-width="0.75"/>
<circle cx="337.30" cy="380.40" r="1.3" fill="#fff" stroke="#3a3a3a" stroke-width="0.75"/>
<circle cx="340.50" cy="382.20" r="1.3" fill="#fff" stroke="#3a3a3a" stroke-width="0.75"/>
<circle cx="340.50" cy="386.80" r="1.3" fill="#fff" stroke="#3a3a3a" stroke-width="0.75"/>
<circle cx="386.40" cy="332.10" r="1.6" fill="#111"/>
<circle cx="383.00" cy="340.60" r="1.6" fill="#111"/>
<circle cx="386.40" cy="343.10" r="1.6" fill="#111"/>
<circle cx="389.60" cy="359.70" r="1.6" fill="#111"/>
<circle cx="386.40" cy="362.50" r="1.6" fill="#111"/>
<circle cx="383.00" cy="367.50" r="1.6" fill="#111"/>
<circle cx="389.60" cy="366.60" r="1.6" fill="#111"/>
<circle cx="386.40" cy="369.40" r="1.6" fill="#111"/>
<circle cx="383.00" cy="372.40" r="1.6" fill="#111"/>
<circle cx="389.60" cy="373.60" r="1.6" fill="#111"/>
<circle cx="392.50" cy="372.40" r="1.6" fill="#111"/>
<circle cx="386.40" cy="375.40" r="1.6" fill="#111"/>
<circle cx="386.40" cy="379.60" r="1.6" fill="#111"/>
<circle cx="386.40" cy="391.20" r="1.6" fill="#111"/>
<circle cx="419.80" cy="378.30" r="1.3" fill="#fff" stroke="#3a3a3a" stroke-width="0.75"/>
<circle cx="423.60" cy="377.60" r="1.3" fill="#fff" stroke="#3a3a3a" stroke-width="0.75"/>
<circle cx="416.60" cy="386.10" r="1.3" fill="#fff" stroke="#3a3a3a" stroke-width="0.75"/>
<circle cx="419.80" cy="386.90" r="1.3" fill="#fff" stroke="#3a3a3a" stroke-width="0.75"/>
<circle cx="416.60" cy="389.40" r="1.3" fill="#fff" stroke="#3a3a3a" stroke-width="0.75"/>
<circle cx="419.80" cy="390.10" r="1.3" fill="#fff" stroke="#3a3a3a" stroke-width="0.75"/>
<circle cx="423.60" cy="389.70" r="1.3" fill="#fff" stroke="#3a3a3a" stroke-width="0.75"/>
<circle cx="419.80" cy="395.40" r="1.3" fill="#fff" stroke="#3a3a3a" stroke-width="0.75"/>
<circle cx="419.80" cy="406.10" r="1.3" fill="#fff" stroke="#3a3a3a" stroke-width="0.75"/>
<circle cx="461.90" cy="348.90" r="1.6" fill="#111"/>
<circle cx="465.50" cy="352.30" r="1.6" fill="#111"/>
<circle cx="465.50" cy="358.80" r="1.6" fill="#111"/>
<circle cx="462.00" cy="363.70" r="1.6" fill="#111"/>
<circle cx="469.00" cy="363.30" r="1.6" fill="#111"/>
<circle cx="462.00" cy="365.60" r="1.6" fill="#111"/>
<circle cx="465.50" cy="364.70" r="1.6" fill="#111"/>
<circle cx="465.50" cy="368.80" r="1.6" fill="#111"/>
<circle cx="469.00" cy="368.10" r="1.6" fill="#111"/>
<circle cx="462.00" cy="374.30" r="1.6" fill="#111"/>
<circle cx="465.50" cy="375.00" r="1.6" fill="#111"/>
<circle cx="469.00" cy="373.90" r="1.6" fill="#111"/>
<circle cx="472.50" cy="382.90" r="1.6" fill="#111"/>
<circle cx="462.00" cy="383.90" r="1.6" fill="#111"/>
<circle cx="469.00" cy="384.90" r="1.6" fill="#111"/>
<circle cx="458.50" cy="386.60" r="1.6" fill="#111"/>
<circle cx="462.00" cy="386.20" r="1.6" fill="#111"/>
<circle cx="465.50" cy="385.70" r="1.6" fill="#111"/>
<circle cx="469.00" cy="386.60" r="1.6" fill="#111"/>
<circle cx="465.50" cy="389.40" r="1.6" fill="#111"/>
<circle cx="465.50" cy="394.50" r="1.6" fill="#111"/>
<circle cx="502.40" cy="385.40" r="1.3" fill="#fff" stroke="#3a3a3a" stroke-width="0.75"/>
<circle cx="489.40" cy="388.20" r="1.3" fill="#fff" stroke="#3a3a3a" stroke-width="0.75"/>
<circle cx="499.30" cy="388.20" r="1.3" fill="#fff" stroke="#3a3a3a" stroke-width="0.75"/>
<circle cx="496.20" cy="391.30" r="1.3" fill="#fff" stroke="#3a3a3a" stroke-width="0.75"/>
<circle cx="499.30" cy="391.60" r="1.3" fill="#fff" stroke="#3a3a3a" stroke-width="0.75"/>
<circle cx="502.40" cy="390.40" r="1.3" fill="#fff" stroke="#3a3a3a" stroke-width="0.75"/>
<circle cx="505.80" cy="389.10" r="1.3" fill="#fff" stroke="#3a3a3a" stroke-width="0.75"/>
<circle cx="499.30" cy="397.50" r="1.3" fill="#fff" stroke="#3a3a3a" stroke-width="0.75"/>
<circle cx="492.80" cy="390.20" r="1.6" fill="#111"/>
<line x1="296" y1="336.5" x2="318.2" y2="336.5" stroke="#222" stroke-width="0.9"/>
<line x1="329.2" y1="372.5" x2="352" y2="372.5" stroke="#222" stroke-width="0.9"/>
<line x1="374.5" y1="352.5" x2="397.7" y2="352.5" stroke="#222" stroke-width="0.9"/>
<line x1="408.8" y1="386.5" x2="431.4" y2="386.5" stroke="#222" stroke-width="0.9"/>
<line x1="453.4" y1="367.5" x2="477" y2="367.5" stroke="#222" stroke-width="0.9"/>
<line x1="488.5" y1="389.5" x2="510.7" y2="389.5" stroke="#222" stroke-width="0.9"/>
</g></svg>
</body></html>
